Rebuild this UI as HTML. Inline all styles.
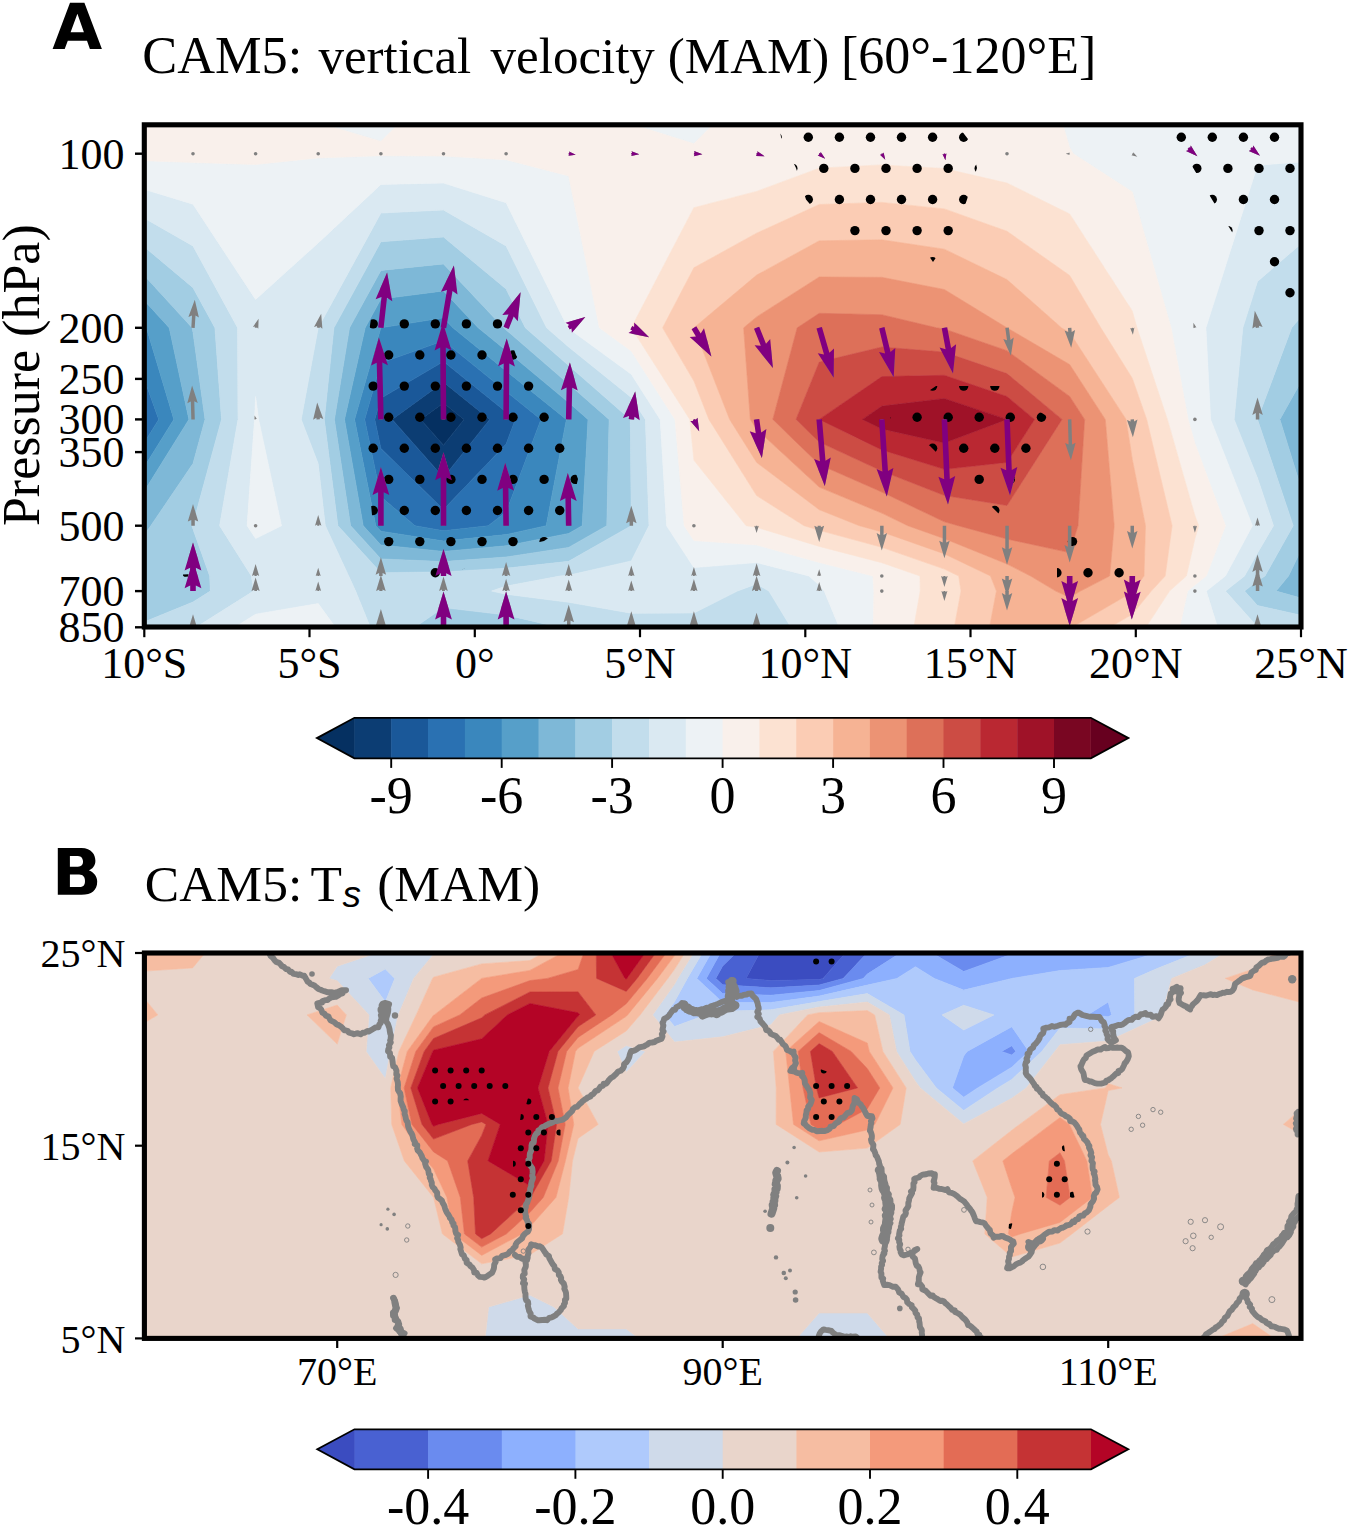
<!DOCTYPE html>
<html><head><meta charset="utf-8"><title>Figure</title>
<style>
html,body{margin:0;padding:0;background:#fff;}
svg{display:block;}
text{font-family:"Liberation Serif",serif;fill:#000;}
.sb{font-family:"Liberation Sans",sans-serif;font-weight:bold;}
</style></head><body>
<svg width="1350" height="1527" viewBox="0 0 1350 1527">
<rect x="0" y="0" width="1350" height="1527" fill="#ffffff"/>
<defs><clipPath id="clipA"><rect x="144.3" y="124.8" width="1156.7" height="502.2"/></clipPath></defs>
<g clip-path="url(#clipA)">
<path d="M443.5,402.9L464,419.4L443.5,445.2L420.7,419.4Z" fill="#053061" stroke="#053061" stroke-width="0.6" fill-rule="evenodd"/>
<path d="M443.5,382.2L489.7,419.4L443.5,477.4L392.2,419.4ZM420.7,419.4L443.5,445.2L464,419.4L443.5,402.9Z" fill="#0c3d73" stroke="#0c3d73" stroke-width="0.6" fill-rule="evenodd"/>
<path d="M143.5,419.4L130.4,440.6L130.4,419.4L130.4,382.7ZM380.9,398.3L443.5,361.5L506.1,412L515.3,419.4L506.1,443.9L443.5,509.6L380.9,448.4L374.8,419.4ZM392.2,419.4L443.5,477.4L489.7,419.4L443.5,382.2Z" fill="#1a5899" stroke="#1a5899" stroke-width="0.6" fill-rule="evenodd"/>
<path d="M158.7,419.4L130.4,464.9L130.4,440.6L143.5,419.4L130.4,382.7L130.4,340.5ZM380.9,363L443.5,340.8L506.1,391.5L540.9,419.4L506.1,512.1L488.2,525.7L443.5,530.8L415,525.7L380.9,496.7L364.7,419.4ZM374.8,419.4L380.9,448.4L443.5,509.6L506.1,443.9L515.3,419.4L506.1,412L443.5,361.5L380.9,398.3Z" fill="#2a71b2" stroke="#2a71b2" stroke-width="0.6" fill-rule="evenodd"/>
<path d="M146.4,327.8L173.8,419.4L130.4,489.2L130.4,464.9L158.7,419.4L130.4,340.5L130.4,327.8L130.4,310.3ZM380.9,327.8L443.5,317.8L452.9,327.8L506.1,370.9L566.4,419.4L546.2,525.7L506.1,534.6L443.5,541.1L380.9,531.2L375.8,525.7L354.6,419.4ZM364.7,419.4L380.9,496.7L415,525.7L443.5,530.8L488.2,525.7L506.1,512.1L540.9,419.4L506.1,391.5L443.5,340.8L380.9,363Z" fill="#3a87bd" stroke="#3a87bd" stroke-width="0.6" fill-rule="evenodd"/>
<path d="M169.2,327.8L188.9,419.4L130.4,513.5L130.4,489.2L173.8,419.4L146.4,327.8L130.4,310.3L130.4,285.3ZM380.9,299.1L443.5,290.9L478.2,327.8L506.1,350.4L568.7,402.6L588,419.4L582.2,525.7L568.7,533.4L506.1,545.8L443.5,551.4L380.9,545L363.2,525.7L344.5,419.4L365.2,327.8ZM380.9,327.8L354.6,419.4L375.8,525.7L380.9,531.2L443.5,541.1L506.1,534.6L546.2,525.7L566.4,419.4L506.1,370.9L452.9,327.8L443.5,317.8ZM1320.1,387.5L1320.1,419.4L1320.1,478.9L1302.2,419.4ZM1320.1,558L1320.1,576L1320.1,585L1311.9,576Z" fill="#569fc9" stroke="#569fc9" stroke-width="0.6" fill-rule="evenodd"/>
<path d="M192.1,327.8L193,332.6L205,419.4L193,463.5L150.8,525.7L130.4,553.6L130.4,525.7L130.4,513.5L188.9,419.4L169.2,327.8L130.4,285.3L130.4,260.3ZM380.9,270.4L443.5,263.9L503.6,327.8L506.1,329.9L568.7,384.1L609.1,419.4L606.8,525.7L568.7,547.4L506.1,557L443.5,561.6L380.9,558.9L350.6,525.7L334.4,419.4L349.5,327.8ZM365.2,327.8L344.5,419.4L363.2,525.7L380.9,545L443.5,551.4L506.1,545.8L568.7,533.4L582.2,525.7L588,419.4L568.7,402.6L506.1,350.4L478.2,327.8L443.5,290.9L380.9,299.1ZM1320.1,347.7L1320.1,387.5L1302.2,419.4L1320.1,478.9L1320.1,525.7L1320.1,558L1311.9,576L1320.1,585L1320.1,591.1L1320.1,603.3L1276.1,591.1L1288.5,576L1312.8,525.7L1279.9,419.4Z" fill="#7eb8d7" stroke="#7eb8d7" stroke-width="0.6" fill-rule="evenodd"/>
<path d="M193,287.7L214.9,327.8L221.5,419.4L193,523.9L191.8,525.7L193,529.2L209.7,576L210.3,591.1L193,602L130.4,627.5L130.4,660L130.4,660L130.4,627.5L130.4,591.1L130.4,576L130.4,553.6L150.8,525.7L193,463.5L205,419.4L193,332.6L192.1,327.8L130.4,260.3L130.4,235.2ZM380.9,241.8L443.5,237L506.1,289L525.3,327.8L568.7,365.6L630.3,419.4L631.3,525.7L631.3,525.7L631.3,525.7L568.7,561.3L506.1,568.2L443.5,571.9L380.9,572.7L337.9,525.7L324.3,419.4L333.9,327.8ZM349.5,327.8L334.4,419.4L350.6,525.7L380.9,558.9L443.5,561.6L506.1,557L568.7,547.4L606.8,525.7L609.1,419.4L568.7,384.1L506.1,329.9L503.6,327.8L443.5,263.9L380.9,270.4ZM1320.1,294.3L1320.1,327.8L1320.1,347.7L1279.9,419.4L1312.8,525.7L1288.5,576L1276.1,591.1L1320.1,603.3L1320.1,619.4L1257.5,605.6L1244.5,591.1L1257.5,580.8L1265,576L1293.2,525.7L1257.5,419.4L1257.5,419.4L1257.5,419.4L1291.7,327.8ZM443.5,607.6L506.1,615L559.8,627.5L559.8,660L506.1,660L443.5,660L414.6,660L414.6,627.5Z" fill="#a2cde3" stroke="#a2cde3" stroke-width="0.6" fill-rule="evenodd"/>
<path d="M193,246L237.6,327.8L238,419.4L219.6,525.7L251.4,576L253.5,591.1L195.7,627.5L195.7,660L193,660L130.4,660L130.4,627.5L193,602L210.3,591.1L209.7,576L193,529.2L191.8,525.7L193,523.9L221.5,419.4L214.9,327.8L193,287.7L130.4,235.2L130.4,210.2ZM318.2,327.8L380.9,213.1L443.5,210L506.1,245.9L546.6,327.8L568.7,347L631.3,397.4L645.4,419.4L649,525.7L631.3,560.9L568.7,575.3L559.8,576L506.1,586.1L491.6,591.1L506.1,594.2L568.7,602.3L631.3,613.2L693.9,613L737.4,591.1L756.6,583.9L768.9,591.1L791,627.5L791,660L756.6,660L693.9,660L631.3,660L568.7,660L559.8,660L559.8,627.5L506.1,615L443.5,607.6L414.6,627.5L414.6,660L380.9,660L370.4,660L370.4,627.5L355.6,591.1L348.7,576L325.3,525.7L318.2,463.7L301.2,419.4ZM333.9,327.8L324.3,419.4L337.9,525.7L380.9,572.7L443.5,571.9L506.1,568.2L568.7,561.3L631.3,525.7L631.3,525.7L631.3,525.7L630.3,419.4L568.7,365.6L525.3,327.8L506.1,289L443.5,237L380.9,241.8ZM1257.5,281.4L1320.1,227.4L1320.1,294.3L1291.7,327.8L1257.5,419.4L1257.5,419.4L1257.5,419.4L1293.2,525.7L1265,576L1257.5,580.8L1244.5,591.1L1257.5,605.6L1320.1,619.4L1320.1,627.5L1320.1,660L1261.1,660L1261.1,627.5L1257.5,626.9L1225.4,591.1L1244.5,576L1257.5,553L1273.5,525.7L1257.5,478.1L1234.1,419.4L1242.8,327.8Z" fill="#c2ddec" stroke="#c2ddec" stroke-width="0.6" fill-rule="evenodd"/>
<path d="M193,204.2L255.6,299.5L318.2,242.9L380.9,184.4L443.5,183.1L506.1,202.8L567.9,327.8L568.7,328.5L631.3,374.2L660.2,419.4L666.6,525.7L693.9,567.6L756.6,562.6L808.9,576L819.2,585.1L824.2,591.1L839.3,627.5L839.3,660L819.2,660L791,660L791,627.5L768.9,591.1L756.6,583.9L737.4,591.1L693.9,613L631.3,613.2L568.7,602.3L506.1,594.2L491.6,591.1L506.1,586.1L559.8,576L568.7,575.3L631.3,560.9L649,525.7L645.4,419.4L631.3,397.4L568.7,347L546.6,327.8L506.1,245.9L443.5,210L380.9,213.1L318.2,327.8L318.2,327.8L301.2,419.4L318.2,463.7L325.3,525.7L348.7,576L355.6,591.1L370.4,627.5L370.4,660L335.6,660L335.6,627.5L318.2,603.6L255.6,614.2L234.4,627.5L234.4,660L195.7,660L195.7,627.5L253.5,591.1L251.4,576L219.6,525.7L238,419.4L237.6,327.8L193,246L130.4,210.2L130.4,185.2ZM254.5,419.4L247.1,525.7L255.6,538.6L281.5,525.7L258.6,419.4L255.6,396.5ZM1257.5,165.3L1320.1,160.4L1320.1,227.4L1257.5,281.4L1242.8,327.8L1234.1,419.4L1257.5,478.1L1273.5,525.7L1257.5,553L1244.5,576L1225.4,591.1L1257.5,626.9L1261.1,627.5L1261.1,660L1257.5,660L1217.6,660L1217.6,627.5L1206.3,591.1L1225.4,576L1252.4,525.7L1210.6,419.4L1205.9,327.8Z" fill="#dae9f2" stroke="#dae9f2" stroke-width="0.6" fill-rule="evenodd"/>
<path d="M318.2,57L380.9,57L443.5,57L446.8,57L443.5,79.9L380.9,141.4L318.2,122.7L301.9,57ZM631.3,57L693.9,57L756.6,57L759.8,57L756.6,81L693.9,143.7L631.3,124.1L595.2,57ZM1069.7,57L1132.3,57L1194.9,57L1257.5,57L1320.1,57L1320.1,153.7L1320.1,160.4L1257.5,165.3L1205.9,327.8L1210.6,419.4L1252.4,525.7L1225.4,576L1206.3,591.1L1217.6,627.5L1217.6,660L1194.9,660L1179.7,660L1179.7,627.5L1187.6,591.1L1194.9,585.1L1206.3,576L1225.5,525.7L1194.9,443.3L1188.1,419.4L1171.1,327.8L1132.3,191.9L1073.3,153.7L1069.7,147.7L1042.8,57ZM193,162.5L255.6,164.5L318.2,157.9L380.9,155.7L443.5,156.1L506.1,159.7L568.7,175.9L599.4,327.8L631.3,351L675,419.4L684.2,525.7L693.9,540.6L756.6,544.9L819.2,562.4L872.9,576L873.9,591.1L873.3,627.5L873.3,660L839.3,660L839.3,627.5L824.2,591.1L819.2,585.1L808.9,576L756.6,562.6L693.9,567.6L666.6,525.7L660.2,419.4L631.3,374.2L568.7,328.5L567.9,327.8L506.1,202.8L443.5,183.1L380.9,184.4L318.2,242.9L255.6,299.5L193,204.2L130.4,185.2L130.4,160.2ZM255.6,396.5L258.6,419.4L281.5,525.7L255.6,538.6L247.1,525.7L254.5,419.4ZM255.6,614.2L318.2,603.6L335.6,627.5L335.6,660L318.2,660L255.6,660L234.4,660L234.4,627.5Z" fill="#edf2f5" stroke="#edf2f5" stroke-width="0.6" fill-rule="evenodd"/>
<path d="M193,57L255.6,57L301.9,57L318.2,122.7L380.9,141.4L443.5,79.9L446.8,57L506.1,57L568.7,57L595.2,57L631.3,124.1L693.9,143.7L756.6,81L759.8,57L819.2,57L881.8,57L944.4,57L1007,57L1042.8,57L1069.7,147.7L1073.3,153.7L1132.3,191.9L1171.1,327.8L1188.1,419.4L1194.9,443.3L1225.5,525.7L1206.3,576L1194.9,585.1L1187.6,591.1L1179.7,627.5L1179.7,660L1145.8,660L1145.8,627.5L1169.5,591.1L1186.4,576L1194.9,538.7L1198.7,525.7L1194.9,515.6L1167.4,419.4L1137,327.8L1132.3,311.1L1069.7,214L1007,183.1L944.4,168.6L881.8,164.9L819.2,168.2L756.6,191.4L693.9,207.7L631.3,327.8L689.8,419.4L693.9,460.2L746.1,525.7L756.6,527.3L819.2,546.4L881.8,562.7L920,576L920.2,591.1L913.8,627.5L913.8,660L881.8,660L873.3,660L873.3,627.5L873.9,591.1L872.9,576L819.2,562.4L756.6,544.9L693.9,540.6L684.2,525.7L675,419.4L631.3,351L599.4,327.8L568.7,175.9L506.1,159.7L443.5,156.1L380.9,155.7L318.2,157.9L255.6,164.5L193,162.5L130.4,160.2L130.4,153.7L130.4,57Z" fill="#f9f0eb" stroke="#f9f0eb" stroke-width="0.6" fill-rule="evenodd"/>
<path d="M693.9,207.7L756.6,191.4L819.2,168.2L881.8,164.9L944.4,168.6L1007,183.1L1069.7,214L1132.3,311.1L1137,327.8L1167.4,419.4L1194.9,515.6L1198.7,525.7L1194.9,538.7L1186.4,576L1169.5,591.1L1145.8,627.5L1145.8,660L1132.3,660L1109.5,660L1109.5,627.5L1132.3,614.3L1151.3,591.1L1165.2,576L1172.1,525.7L1146.7,419.4L1132.3,378.3L1100.8,327.8L1069.7,275.5L1007,231.3L944.4,208.9L881.8,202.4L819.2,204.5L756.6,233.2L693.9,267.8L662.6,327.8L693.9,381.1L708.9,419.4L756.6,495.6L804.1,525.7L819.2,530.3L881.8,547.3L944.4,569.1L958.7,576L961,591.1L954.3,627.5L954.3,660L944.4,660L913.8,660L913.8,627.5L920.2,591.1L920,576L881.8,562.7L819.2,546.4L756.6,527.3L746.1,525.7L693.9,460.2L689.8,419.4L631.3,327.8Z" fill="#fce2d2" stroke="#fce2d2" stroke-width="0.6" fill-rule="evenodd"/>
<path d="M693.9,267.8L756.6,233.2L819.2,204.5L881.8,202.4L944.4,208.9L1007,231.3L1069.7,275.5L1100.8,327.8L1132.3,378.3L1146.7,419.4L1172.1,525.7L1165.2,576L1151.3,591.1L1132.3,614.3L1109.5,627.5L1109.5,660L1071.6,660L1071.6,627.5L1132.3,592.2L1133.2,591.1L1144,576L1145.5,525.7L1132.3,459.3L1126.1,419.4L1069.7,332.6L1061.5,327.8L1007,279.6L944.4,249.2L881.8,239.8L819.2,240.8L756.6,275.1L693.9,327.8L729.6,419.4L756.6,462.4L819.2,509.7L859.2,525.7L881.8,531.9L944.4,553.9L990.5,576L996.4,591.1L989.5,627.5L989.5,660L954.3,660L954.3,627.5L961,591.1L958.7,576L944.4,569.1L881.8,547.3L819.2,530.3L804.1,525.7L756.6,495.6L708.9,419.4L693.9,381.1L662.6,327.8Z" fill="#fbccb4" stroke="#fbccb4" stroke-width="0.6" fill-rule="evenodd"/>
<path d="M756.6,275.1L819.2,240.8L881.8,239.8L944.4,249.2L1007,279.6L1061.5,327.8L1069.7,332.6L1126.1,419.4L1132.3,459.3L1145.5,525.7L1144,576L1133.2,591.1L1132.3,592.2L1071.6,627.5L1071.6,660L1069.7,660L1007,660L989.5,660L989.5,627.5L996.4,591.1L990.5,576L944.4,553.9L881.8,531.9L859.2,525.7L819.2,509.7L756.6,462.4L729.6,419.4L693.9,327.8ZM743.6,327.8L750.3,419.4L756.6,429.3L819.2,487.1L881.8,513.1L907.7,525.7L944.4,538.7L1007,564L1030.5,576L1055.7,591.1L1069.7,597.4L1080.5,591.1L1109.7,576L1114.2,525.7L1105.3,419.4L1069.7,364.5L1007,327.8L1007,327.8L944.4,289.5L881.8,277.3L819.2,277L756.6,316.9Z" fill="#f6b394" stroke="#f6b394" stroke-width="0.6" fill-rule="evenodd"/>
<path d="M756.6,316.9L819.2,277L881.8,277.3L944.4,289.5L1007,327.8L1007,327.8L1069.7,364.5L1105.3,419.4L1114.2,525.7L1109.7,576L1080.5,591.1L1069.7,597.4L1055.7,591.1L1030.5,576L1007,564L944.4,538.7L907.7,525.7L881.8,513.1L819.2,487.1L756.6,429.3L750.3,419.4L743.6,327.8ZM797.2,327.8L772.8,419.4L819.2,464.5L881.8,492L944.4,521.8L958.2,525.7L1007,539L1069.7,552.6L1078,525.7L1084.6,419.4L1069.7,396.4L1007,350.7L944.4,329L936.6,327.8L881.8,314.7L819.2,313.3Z" fill="#ec9374" stroke="#ec9374" stroke-width="0.6" fill-rule="evenodd"/>
<path d="M819.2,313.3L881.8,314.7L936.6,327.8L944.4,329L1007,350.7L1069.7,396.4L1084.6,419.4L1078,525.7L1069.7,552.6L1007,539L958.2,525.7L944.4,521.8L881.8,492L819.2,464.5L772.8,419.4L797.2,327.8ZM796,419.4L819.2,442L881.8,471L944.4,495.5L1007,505.5L1062,419.4L1007,373.6L944.4,352.1L881.8,347L819.2,362.1Z" fill="#dd7059" stroke="#dd7059" stroke-width="0.6" fill-rule="evenodd"/>
<path d="M819.2,362.1L881.8,347L944.4,352.1L1007,373.6L1062,419.4L1007,505.5L944.4,495.5L881.8,471L819.2,442L796,419.4ZM819.2,419.4L881.8,449.9L944.4,469.3L1007,462.4L1034.5,419.4L1007,396.5L944.4,375.3L881.8,376.6Z" fill="#cc4c44" stroke="#cc4c44" stroke-width="0.6" fill-rule="evenodd"/>
<path d="M881.8,376.6L944.4,375.3L1007,396.5L1034.5,419.4L1007,462.4L944.4,469.3L881.8,449.9L819.2,419.4ZM862.4,419.4L881.8,428.9L944.4,443L1007,419.4L944.4,398.5L881.8,406.1Z" fill="#ba2832" stroke="#ba2832" stroke-width="0.6" fill-rule="evenodd"/>
<path d="M881.8,406.1L944.4,398.5L1007,419.4L944.4,443L881.8,428.9L862.4,419.4Z" fill="#9f1228" stroke="#9f1228" stroke-width="0.6" fill-rule="evenodd"/>
</g>
<g clip-path="url(#clipA)">
<clipPath id="sa0"><path d="M779,126L958,126L971,143L977,168L967,199.5L956,232L948,240L933,262L918,240L838,237L806,199.5L796,168L781,137Z"/></clipPath>
<g clip-path="url(#sa0)" fill="#000"><circle cx="761.7" cy="106.2" r="4.7"/><circle cx="792.8" cy="106.2" r="4.7"/><circle cx="823.8" cy="106.2" r="4.7"/><circle cx="854.9" cy="106.2" r="4.7"/><circle cx="886" cy="106.2" r="4.7"/><circle cx="917.1" cy="106.2" r="4.7"/><circle cx="948.2" cy="106.2" r="4.7"/><circle cx="979.2" cy="106.2" r="4.7"/><circle cx="1010.3" cy="106.2" r="4.7"/><circle cx="746.1" cy="137.3" r="4.7"/><circle cx="777.2" cy="137.3" r="4.7"/><circle cx="808.3" cy="137.3" r="4.7"/><circle cx="839.4" cy="137.3" r="4.7"/><circle cx="870.5" cy="137.3" r="4.7"/><circle cx="901.5" cy="137.3" r="4.7"/><circle cx="932.6" cy="137.3" r="4.7"/><circle cx="963.7" cy="137.3" r="4.7"/><circle cx="994.8" cy="137.3" r="4.7"/><circle cx="761.7" cy="168.4" r="4.7"/><circle cx="792.8" cy="168.4" r="4.7"/><circle cx="823.8" cy="168.4" r="4.7"/><circle cx="854.9" cy="168.4" r="4.7"/><circle cx="886" cy="168.4" r="4.7"/><circle cx="917.1" cy="168.4" r="4.7"/><circle cx="948.2" cy="168.4" r="4.7"/><circle cx="979.2" cy="168.4" r="4.7"/><circle cx="1010.3" cy="168.4" r="4.7"/><circle cx="746.1" cy="199.5" r="4.7"/><circle cx="777.2" cy="199.5" r="4.7"/><circle cx="808.3" cy="199.5" r="4.7"/><circle cx="839.4" cy="199.5" r="4.7"/><circle cx="870.5" cy="199.5" r="4.7"/><circle cx="901.5" cy="199.5" r="4.7"/><circle cx="932.6" cy="199.5" r="4.7"/><circle cx="963.7" cy="199.5" r="4.7"/><circle cx="994.8" cy="199.5" r="4.7"/><circle cx="761.7" cy="230.6" r="4.7"/><circle cx="792.8" cy="230.6" r="4.7"/><circle cx="823.8" cy="230.6" r="4.7"/><circle cx="854.9" cy="230.6" r="4.7"/><circle cx="886" cy="230.6" r="4.7"/><circle cx="917.1" cy="230.6" r="4.7"/><circle cx="948.2" cy="230.6" r="4.7"/><circle cx="979.2" cy="230.6" r="4.7"/><circle cx="1010.3" cy="230.6" r="4.7"/><circle cx="746.1" cy="261.7" r="4.7"/><circle cx="777.2" cy="261.7" r="4.7"/><circle cx="808.3" cy="261.7" r="4.7"/><circle cx="839.4" cy="261.7" r="4.7"/><circle cx="870.5" cy="261.7" r="4.7"/><circle cx="901.5" cy="261.7" r="4.7"/><circle cx="932.6" cy="261.7" r="4.7"/><circle cx="963.7" cy="261.7" r="4.7"/><circle cx="994.8" cy="261.7" r="4.7"/><circle cx="761.7" cy="292.8" r="4.7"/><circle cx="792.8" cy="292.8" r="4.7"/><circle cx="823.8" cy="292.8" r="4.7"/><circle cx="854.9" cy="292.8" r="4.7"/><circle cx="886" cy="292.8" r="4.7"/><circle cx="917.1" cy="292.8" r="4.7"/><circle cx="948.2" cy="292.8" r="4.7"/><circle cx="979.2" cy="292.8" r="4.7"/><circle cx="1010.3" cy="292.8" r="4.7"/></g>
<clipPath id="sa1"><path d="M1166,126L1302,126L1302,315L1284,298L1268,262L1232,232L1212,199.5L1192,166L1172,137Z"/></clipPath>
<g clip-path="url(#sa1)" fill="#000"><circle cx="1134.6" cy="106.2" r="4.7"/><circle cx="1165.7" cy="106.2" r="4.7"/><circle cx="1196.8" cy="106.2" r="4.7"/><circle cx="1227.9" cy="106.2" r="4.7"/><circle cx="1259" cy="106.2" r="4.7"/><circle cx="1290" cy="106.2" r="4.7"/><circle cx="1321.1" cy="106.2" r="4.7"/><circle cx="1150.2" cy="137.3" r="4.7"/><circle cx="1181.3" cy="137.3" r="4.7"/><circle cx="1212.3" cy="137.3" r="4.7"/><circle cx="1243.4" cy="137.3" r="4.7"/><circle cx="1274.5" cy="137.3" r="4.7"/><circle cx="1305.6" cy="137.3" r="4.7"/><circle cx="1336.7" cy="137.3" r="4.7"/><circle cx="1134.6" cy="168.4" r="4.7"/><circle cx="1165.7" cy="168.4" r="4.7"/><circle cx="1196.8" cy="168.4" r="4.7"/><circle cx="1227.9" cy="168.4" r="4.7"/><circle cx="1259" cy="168.4" r="4.7"/><circle cx="1290" cy="168.4" r="4.7"/><circle cx="1321.1" cy="168.4" r="4.7"/><circle cx="1150.2" cy="199.5" r="4.7"/><circle cx="1181.3" cy="199.5" r="4.7"/><circle cx="1212.3" cy="199.5" r="4.7"/><circle cx="1243.4" cy="199.5" r="4.7"/><circle cx="1274.5" cy="199.5" r="4.7"/><circle cx="1305.6" cy="199.5" r="4.7"/><circle cx="1336.7" cy="199.5" r="4.7"/><circle cx="1134.6" cy="230.6" r="4.7"/><circle cx="1165.7" cy="230.6" r="4.7"/><circle cx="1196.8" cy="230.6" r="4.7"/><circle cx="1227.9" cy="230.6" r="4.7"/><circle cx="1259" cy="230.6" r="4.7"/><circle cx="1290" cy="230.6" r="4.7"/><circle cx="1321.1" cy="230.6" r="4.7"/><circle cx="1150.2" cy="261.7" r="4.7"/><circle cx="1181.3" cy="261.7" r="4.7"/><circle cx="1212.3" cy="261.7" r="4.7"/><circle cx="1243.4" cy="261.7" r="4.7"/><circle cx="1274.5" cy="261.7" r="4.7"/><circle cx="1305.6" cy="261.7" r="4.7"/><circle cx="1336.7" cy="261.7" r="4.7"/><circle cx="1134.6" cy="292.8" r="4.7"/><circle cx="1165.7" cy="292.8" r="4.7"/><circle cx="1196.8" cy="292.8" r="4.7"/><circle cx="1227.9" cy="292.8" r="4.7"/><circle cx="1259" cy="292.8" r="4.7"/><circle cx="1290" cy="292.8" r="4.7"/><circle cx="1321.1" cy="292.8" r="4.7"/><circle cx="1150.2" cy="323.9" r="4.7"/><circle cx="1181.3" cy="323.9" r="4.7"/><circle cx="1212.3" cy="323.9" r="4.7"/><circle cx="1243.4" cy="323.9" r="4.7"/><circle cx="1274.5" cy="323.9" r="4.7"/><circle cx="1305.6" cy="323.9" r="4.7"/><circle cx="1336.7" cy="323.9" r="4.7"/></g>
<clipPath id="sa2"><path d="M371,318L503,318L516,355L535,386L551,417L566,448L578,479L570,512L556,533L544,541L518,547L475,560L462,570L440,579L429,578L426,560L405,549L384,549L372,515L366,450L366,386L368,340Z"/></clipPath>
<g clip-path="url(#sa2)" fill="#000"><circle cx="357.6" cy="292.8" r="4.7"/><circle cx="388.7" cy="292.8" r="4.7"/><circle cx="419.8" cy="292.8" r="4.7"/><circle cx="450.9" cy="292.8" r="4.7"/><circle cx="482" cy="292.8" r="4.7"/><circle cx="513" cy="292.8" r="4.7"/><circle cx="544.1" cy="292.8" r="4.7"/><circle cx="575.2" cy="292.8" r="4.7"/><circle cx="606.3" cy="292.8" r="4.7"/><circle cx="342.1" cy="323.9" r="4.7"/><circle cx="373.2" cy="323.9" r="4.7"/><circle cx="404.3" cy="323.9" r="4.7"/><circle cx="435.3" cy="323.9" r="4.7"/><circle cx="466.4" cy="323.9" r="4.7"/><circle cx="497.5" cy="323.9" r="4.7"/><circle cx="528.6" cy="323.9" r="4.7"/><circle cx="559.7" cy="323.9" r="4.7"/><circle cx="590.7" cy="323.9" r="4.7"/><circle cx="357.6" cy="355" r="4.7"/><circle cx="388.7" cy="355" r="4.7"/><circle cx="419.8" cy="355" r="4.7"/><circle cx="450.9" cy="355" r="4.7"/><circle cx="482" cy="355" r="4.7"/><circle cx="513" cy="355" r="4.7"/><circle cx="544.1" cy="355" r="4.7"/><circle cx="575.2" cy="355" r="4.7"/><circle cx="606.3" cy="355" r="4.7"/><circle cx="342.1" cy="386.1" r="4.7"/><circle cx="373.2" cy="386.1" r="4.7"/><circle cx="404.3" cy="386.1" r="4.7"/><circle cx="435.3" cy="386.1" r="4.7"/><circle cx="466.4" cy="386.1" r="4.7"/><circle cx="497.5" cy="386.1" r="4.7"/><circle cx="528.6" cy="386.1" r="4.7"/><circle cx="559.7" cy="386.1" r="4.7"/><circle cx="590.7" cy="386.1" r="4.7"/><circle cx="357.6" cy="417.2" r="4.7"/><circle cx="388.7" cy="417.2" r="4.7"/><circle cx="419.8" cy="417.2" r="4.7"/><circle cx="450.9" cy="417.2" r="4.7"/><circle cx="482" cy="417.2" r="4.7"/><circle cx="513" cy="417.2" r="4.7"/><circle cx="544.1" cy="417.2" r="4.7"/><circle cx="575.2" cy="417.2" r="4.7"/><circle cx="606.3" cy="417.2" r="4.7"/><circle cx="342.1" cy="448.3" r="4.7"/><circle cx="373.2" cy="448.3" r="4.7"/><circle cx="404.3" cy="448.3" r="4.7"/><circle cx="435.3" cy="448.3" r="4.7"/><circle cx="466.4" cy="448.3" r="4.7"/><circle cx="497.5" cy="448.3" r="4.7"/><circle cx="528.6" cy="448.3" r="4.7"/><circle cx="559.7" cy="448.3" r="4.7"/><circle cx="590.7" cy="448.3" r="4.7"/><circle cx="357.6" cy="479.4" r="4.7"/><circle cx="388.7" cy="479.4" r="4.7"/><circle cx="419.8" cy="479.4" r="4.7"/><circle cx="450.9" cy="479.4" r="4.7"/><circle cx="482" cy="479.4" r="4.7"/><circle cx="513" cy="479.4" r="4.7"/><circle cx="544.1" cy="479.4" r="4.7"/><circle cx="575.2" cy="479.4" r="4.7"/><circle cx="606.3" cy="479.4" r="4.7"/><circle cx="342.1" cy="510.5" r="4.7"/><circle cx="373.2" cy="510.5" r="4.7"/><circle cx="404.3" cy="510.5" r="4.7"/><circle cx="435.3" cy="510.5" r="4.7"/><circle cx="466.4" cy="510.5" r="4.7"/><circle cx="497.5" cy="510.5" r="4.7"/><circle cx="528.6" cy="510.5" r="4.7"/><circle cx="559.7" cy="510.5" r="4.7"/><circle cx="590.7" cy="510.5" r="4.7"/><circle cx="357.6" cy="541.6" r="4.7"/><circle cx="388.7" cy="541.6" r="4.7"/><circle cx="419.8" cy="541.6" r="4.7"/><circle cx="450.9" cy="541.6" r="4.7"/><circle cx="482" cy="541.6" r="4.7"/><circle cx="513" cy="541.6" r="4.7"/><circle cx="544.1" cy="541.6" r="4.7"/><circle cx="575.2" cy="541.6" r="4.7"/><circle cx="606.3" cy="541.6" r="4.7"/><circle cx="342.1" cy="572.7" r="4.7"/><circle cx="373.2" cy="572.7" r="4.7"/><circle cx="404.3" cy="572.7" r="4.7"/><circle cx="435.3" cy="572.7" r="4.7"/><circle cx="466.4" cy="572.7" r="4.7"/><circle cx="497.5" cy="572.7" r="4.7"/><circle cx="528.6" cy="572.7" r="4.7"/><circle cx="559.7" cy="572.7" r="4.7"/><circle cx="590.7" cy="572.7" r="4.7"/><circle cx="357.6" cy="603.8" r="4.7"/><circle cx="388.7" cy="603.8" r="4.7"/><circle cx="419.8" cy="603.8" r="4.7"/><circle cx="450.9" cy="603.8" r="4.7"/><circle cx="482" cy="603.8" r="4.7"/><circle cx="513" cy="603.8" r="4.7"/><circle cx="544.1" cy="603.8" r="4.7"/><circle cx="575.2" cy="603.8" r="4.7"/><circle cx="606.3" cy="603.8" r="4.7"/></g>
<clipPath id="sa3"><path d="M936,386L1001,386L1048,417L1032,452L1017,486L999,514L990,505L973,480L955,462L936,452L930,446L890,418L895,414Z"/></clipPath>
<g clip-path="url(#sa3)" fill="#000"><circle cx="854.9" cy="355" r="4.7"/><circle cx="886" cy="355" r="4.7"/><circle cx="917.1" cy="355" r="4.7"/><circle cx="948.2" cy="355" r="4.7"/><circle cx="979.2" cy="355" r="4.7"/><circle cx="1010.3" cy="355" r="4.7"/><circle cx="1041.4" cy="355" r="4.7"/><circle cx="1072.5" cy="355" r="4.7"/><circle cx="870.5" cy="386.1" r="4.7"/><circle cx="901.5" cy="386.1" r="4.7"/><circle cx="932.6" cy="386.1" r="4.7"/><circle cx="963.7" cy="386.1" r="4.7"/><circle cx="994.8" cy="386.1" r="4.7"/><circle cx="1025.9" cy="386.1" r="4.7"/><circle cx="1056.9" cy="386.1" r="4.7"/><circle cx="854.9" cy="417.2" r="4.7"/><circle cx="886" cy="417.2" r="4.7"/><circle cx="917.1" cy="417.2" r="4.7"/><circle cx="948.2" cy="417.2" r="4.7"/><circle cx="979.2" cy="417.2" r="4.7"/><circle cx="1010.3" cy="417.2" r="4.7"/><circle cx="1041.4" cy="417.2" r="4.7"/><circle cx="1072.5" cy="417.2" r="4.7"/><circle cx="870.5" cy="448.3" r="4.7"/><circle cx="901.5" cy="448.3" r="4.7"/><circle cx="932.6" cy="448.3" r="4.7"/><circle cx="963.7" cy="448.3" r="4.7"/><circle cx="994.8" cy="448.3" r="4.7"/><circle cx="1025.9" cy="448.3" r="4.7"/><circle cx="1056.9" cy="448.3" r="4.7"/><circle cx="854.9" cy="479.4" r="4.7"/><circle cx="886" cy="479.4" r="4.7"/><circle cx="917.1" cy="479.4" r="4.7"/><circle cx="948.2" cy="479.4" r="4.7"/><circle cx="979.2" cy="479.4" r="4.7"/><circle cx="1010.3" cy="479.4" r="4.7"/><circle cx="1041.4" cy="479.4" r="4.7"/><circle cx="1072.5" cy="479.4" r="4.7"/><circle cx="870.5" cy="510.5" r="4.7"/><circle cx="901.5" cy="510.5" r="4.7"/><circle cx="932.6" cy="510.5" r="4.7"/><circle cx="963.7" cy="510.5" r="4.7"/><circle cx="994.8" cy="510.5" r="4.7"/><circle cx="1025.9" cy="510.5" r="4.7"/><circle cx="1056.9" cy="510.5" r="4.7"/><circle cx="854.9" cy="541.6" r="4.7"/><circle cx="886" cy="541.6" r="4.7"/><circle cx="917.1" cy="541.6" r="4.7"/><circle cx="948.2" cy="541.6" r="4.7"/><circle cx="979.2" cy="541.6" r="4.7"/><circle cx="1010.3" cy="541.6" r="4.7"/><circle cx="1041.4" cy="541.6" r="4.7"/><circle cx="1072.5" cy="541.6" r="4.7"/></g>
<clipPath id="sa4"><path d="M1066,534L1079,534L1088,562L1124,565L1126,580L1057,580L1057,565L1066,548Z"/></clipPath>
<g clip-path="url(#sa4)" fill="#000"><circle cx="1025.9" cy="510.5" r="4.7"/><circle cx="1056.9" cy="510.5" r="4.7"/><circle cx="1088" cy="510.5" r="4.7"/><circle cx="1119.1" cy="510.5" r="4.7"/><circle cx="1150.2" cy="510.5" r="4.7"/><circle cx="1041.4" cy="541.6" r="4.7"/><circle cx="1072.5" cy="541.6" r="4.7"/><circle cx="1103.6" cy="541.6" r="4.7"/><circle cx="1134.6" cy="541.6" r="4.7"/><circle cx="1025.9" cy="572.7" r="4.7"/><circle cx="1056.9" cy="572.7" r="4.7"/><circle cx="1088" cy="572.7" r="4.7"/><circle cx="1119.1" cy="572.7" r="4.7"/><circle cx="1150.2" cy="572.7" r="4.7"/><circle cx="1041.4" cy="603.8" r="4.7"/><circle cx="1072.5" cy="603.8" r="4.7"/><circle cx="1103.6" cy="603.8" r="4.7"/><circle cx="1134.6" cy="603.8" r="4.7"/></g>
<clipPath id="sa5"><path d="M183,574.6L188.5,574.2L188.5,576.4L183,577Z"/></clipPath>
<g clip-path="url(#sa5)" fill="#000"><circle cx="171.2" cy="541.6" r="4.7"/><circle cx="202.2" cy="541.6" r="4.7"/><circle cx="155.6" cy="572.7" r="4.7"/><circle cx="186.7" cy="572.7" r="4.7"/><circle cx="217.8" cy="572.7" r="4.7"/><circle cx="171.2" cy="603.8" r="4.7"/><circle cx="202.2" cy="603.8" r="4.7"/></g>
</g>
<g clip-path="url(#clipA)">
<g fill="#808080"><circle cx="193" cy="153.7" r="1.8"/><circle cx="255.6" cy="153.7" r="1.8"/><circle cx="318.2" cy="153.7" r="1.8"/><circle cx="380.9" cy="153.7" r="1.8"/><circle cx="443.5" cy="153.7" r="1.8"/><circle cx="506.1" cy="153.7" r="1.8"/><path d="M568.6,154.4L569.3,154.5L568.4,155.8L575.7,154.7L569,151.6L569.5,153.1L568.8,153Z"/><path d="M631.3,154.5L632.1,154.6L631.2,156.1L639.3,154.2L631.5,151.3L632.2,152.9L631.4,152.9Z"/><path d="M693.9,154.5L694.7,154.6L693.8,156.2L702.4,154.2L694.1,151.1L694.8,152.9L694,152.8Z"/><path d="M756.3,154.5L757.1,154.8L755.8,156.1L764.6,156.2L757.3,151.3L757.6,153.1L756.8,152.9Z"/><path d="M818.7,154.3L819.3,154.8L817.7,155.5L825.2,158.7L820.7,151.9L820.3,153.6L819.7,153.1Z"/><path d="M881.2,154L881.6,154.6L880,154.8L885.3,159.7L883.6,152.6L882.8,153.9L882.4,153.3Z"/><path d="M943.8,153.8L943.9,154.4L942.5,154L945.4,160.2L946.4,153.4L945.2,154.2L945.1,153.6Z"/><circle cx="1007" cy="153.7" r="1.8"/><path d="M1069.7,153.3L1069.3,153.3L1069.7,152.5L1065.7,153.7L1069.7,154.9L1069.3,154.1L1069.7,154.1Z"/><path d="M1132,154.2L1132.5,154.5L1131.4,155.2L1137.3,156.7L1133.2,152.2L1133.1,153.5L1132.6,153.2Z"/><path d="M1187.6,149.1L1188.5,149.9L1186,150.9L1197.4,156.2L1190.8,145.5L1190.1,148.1L1189.2,147.3Z"/><path d="M1250.3,149.1L1251.2,149.8L1248.8,150.9L1260,155.7L1253.3,145.5L1252.7,148L1251.8,147.3Z"/><path d="M194.7,327.9L195.5,315.6L198.9,317.6L194.8,299.8L188.4,316.9L192,315.4L191.3,327.7Z"/><path d="M256.5,328.1L256.8,327.2L258.3,328.7L258.6,318.8L252.9,326.9L255,326.6L254.7,327.5Z"/><path d="M319.6,328.1L319.9,326.7L322.4,328.7L321.2,313.8L314,326.9L317.1,326.1L316.8,327.5Z"/><path d="M382.6,328L387,288.2L390.3,290.4L387.1,272.4L379.9,289.2L383.6,287.9L379.1,327.6Z"/><path d="M445.2,328.1L453,281.4L456.2,283.7L453.9,265.6L445.8,282L449.6,280.8L441.7,327.5Z"/><path d="M507.7,328.5L516.3,307.4L518.9,310.4L520.6,292.2L509.1,306.4L513,306.1L504.5,327.1Z"/><path d="M569.7,329.3L573,327.1L573.4,331L585.3,317.1L567.8,322.2L571.1,324.2L567.8,326.3Z"/><path d="M630.5,329.3L634.4,331.4L631.2,333.7L649.1,337.3L636.2,324.4L636.1,328.3L632.2,326.3Z"/><path d="M692.5,328.7L701.8,344L697.9,344.3L711.4,356.5L706.8,338.8L704.7,342.1L695.4,326.9Z"/><path d="M754.9,328.5L765.3,354.2L761.4,353.8L772.9,368.1L771.2,349.9L768.6,352.8L758.2,327.1Z"/><path d="M817.5,328.3L827.6,363.2L823.8,362.5L833.7,377.8L833.9,359.5L831,362.2L820.9,327.3Z"/><path d="M880.1,328.2L888.3,362.4L884.5,361.5L893.7,377.3L894.7,359.1L891.7,361.6L883.5,327.4Z"/><path d="M942.7,328.1L948.4,358.2L944.6,357.2L953,373.4L954.9,355.2L951.8,357.6L946.1,327.5Z"/><path d="M1005.3,328L1007,340.3L1003.3,339.1L1010.9,355.7L1013.7,337.6L1010.5,339.9L1008.8,327.6Z"/><path d="M1067.9,327.9L1068.2,332.1L1064.6,330.6L1071.2,347.7L1075.1,329.9L1071.7,331.9L1071.4,327.7Z"/><path d="M1131.6,327.9L1131.6,328.6L1130.2,328L1132.9,334.8L1134.4,327.6L1133,328.4L1133,327.7Z"/><path d="M1195.4,327.7L1195.2,327.2L1196.4,327.4L1193.4,322.8L1193.4,328.2L1194.2,327.4L1194.4,327.9Z"/><path d="M1259.2,327.5L1258.9,325.8L1262.6,327L1254.8,310.8L1252.4,328.6L1255.5,326.4L1255.8,328.1Z"/><path d="M194.8,419.4L194.3,401.3L197.8,403L192.1,385.6L187.3,403.2L190.8,401.4L191.3,419.4Z"/><path d="M256,419.3L255.9,418.9L256.8,419.1L254.6,415.4L254.4,419.7L255.1,419.1L255.2,419.5Z"/><path d="M319.9,419.3L319.8,417.6L323.3,419.1L317.2,402.4L313.1,419.7L316.4,417.8L316.5,419.5Z"/><path d="M382.6,419.4L381,353.1L384.5,354.8L378.9,337.4L374,355L377.5,353.2L379.1,419.4Z"/><path d="M445.2,419.4L444.7,338.1L448.2,339.9L442.9,322.4L437.7,339.9L441.2,338.2L441.7,419.4Z"/><path d="M507.8,419.4L508.3,354.2L511.8,355.9L506.7,338.4L501.3,355.9L504.8,354.1L504.3,419.4Z"/><path d="M570.5,419.4L571.3,378.2L574.8,380L569.9,362.4L564.3,379.8L567.8,378.1L567,419.4Z"/><path d="M633.1,419.6L634.8,407.2L638,409.5L635.2,391.4L627.6,408L631.3,406.8L629.6,419.2Z"/><path d="M692.8,419.9L693.3,421.1L690.4,421L699.2,431.3L697.5,417.8L695.7,420.1L695.1,418.9Z"/><path d="M754.8,419.6L758,442.5L754.3,441.3L761.9,457.9L764.7,439.8L761.5,442.1L758.3,419.2Z"/><path d="M817.4,419.5L821.7,470.6L818.1,469.1L824.8,486.1L828.6,468.2L825.2,470.3L820.9,419.3Z"/><path d="M880.1,419.5L884,480.8L880.4,479.3L886.8,496.4L890.9,478.6L887.5,480.6L883.5,419.3Z"/><path d="M942.7,419.5L945.6,488.7L942,487.1L948,504.4L952.5,486.7L949.1,488.6L946.2,419.3Z"/><path d="M1005.3,419.5L1007.7,479.7L1004.1,478.1L1010,495.4L1014.6,477.7L1011.2,479.6L1008.8,419.3Z"/><path d="M1067.9,419.5L1068.6,444.6L1065.1,443L1070.9,460.3L1075.6,442.7L1072.1,444.5L1071.4,419.3Z"/><path d="M1130.5,419.5L1130.6,421.5L1127,419.9L1132.9,437.2L1137.5,419.5L1134.1,421.4L1134,419.3Z"/><circle cx="1194.9" cy="419.4" r="1.8"/><path d="M1259.3,419.4L1259.3,413.1L1262.8,414.9L1257.5,397.4L1252.3,414.9L1255.8,413.1L1255.8,419.4Z"/><path d="M194.8,525.7L194.8,519.9L198.3,521.6L193,504.1L187.8,521.6L191.3,519.9L191.3,525.7Z"/><circle cx="255.6" cy="525.7" r="1.8"/><path d="M319.3,525.7L319.3,524.6L321.4,525.7L318.2,515L315,525.7L317.2,524.6L317.2,525.7Z"/><path d="M382.6,525.7L382.6,482.8L386.1,484.5L380.9,467L375.6,484.5L379.1,482.8L379.1,525.7Z"/><path d="M445.2,525.7L445.2,468L448.7,469.7L443.5,452.2L438.2,469.7L441.7,468L441.7,525.7Z"/><path d="M507.8,525.7L507.2,478.4L510.7,480.1L505.2,462.7L500.2,480.3L503.7,478.5L504.3,525.7Z"/><path d="M570.5,525.7L569.8,488.7L573.4,490.4L567.8,473L562.9,490.6L566.3,488.8L567,525.7Z"/><path d="M633.1,525.7L633.1,521.5L636.6,523.2L631.3,505.7L626.1,523.2L629.6,521.5L629.6,525.7Z"/><circle cx="693.9" cy="525.7" r="1.8"/><path d="M755.8,525.7L755.8,526.4L754.3,525.7L756.6,533.1L758.8,525.7L757.3,526.4L757.3,525.7Z"/><path d="M817.6,525.7L817.6,527.3L814.3,525.7L819.2,542L824.1,525.7L820.8,527.3L820.8,525.7Z"/><path d="M880.1,525.7L880.1,534.9L876.6,533.1L881.8,550.6L887.1,533.1L883.6,534.9L883.6,525.7Z"/><path d="M942.7,525.7L942.7,542.6L939.2,540.8L944.4,558.3L949.7,540.8L946.2,542.6L946.2,525.7Z"/><path d="M1005.3,525.7L1005.3,549L1001.8,547.2L1007,564.7L1012.3,547.2L1008.8,549L1008.8,525.7Z"/><path d="M1067.9,525.7L1067.9,546.7L1064.4,544.9L1069.7,562.4L1074.9,544.9L1071.4,546.7L1071.4,525.7Z"/><path d="M1130.5,525.7L1130.5,532.8L1127,531L1132.3,548.5L1137.5,531L1134,532.8L1134,525.7Z"/><path d="M1194.2,525.7L1194.2,526.4L1192.8,525.7L1194.9,532.7L1197,525.7L1195.6,526.4L1195.6,525.7Z"/><path d="M1258.3,525.7L1258.3,524.9L1260,525.7L1257.5,517.4L1255,525.7L1256.7,524.9L1256.7,525.7Z"/><path d="M194.8,576L194.8,558.2L198.3,560L193,542.5L187.8,560L191.3,558.2L191.3,576Z"/><path d="M256.8,576L256.8,574.8L259.2,576L255.6,564L252,576L254.4,574.8L254.4,576Z"/><path d="M319.1,576L319.1,575.2L320.7,576L318.2,567.7L315.7,576L317.4,575.2L317.4,576Z"/><path d="M382.6,576L382.6,573L386.1,574.8L380.9,557.3L375.6,574.8L379.1,573L379.1,576Z"/><path d="M445.2,576L445.2,564.8L448.7,566.5L443.5,549L438.2,566.5L441.7,564.8L441.7,576Z"/><path d="M507.5,576L507.5,574.6L510.3,576L506.1,562L501.9,576L504.7,574.6L504.7,576Z"/><path d="M569.9,576L569.9,574.8L572.3,576L568.7,563.9L565.1,576L567.5,574.8L567.5,576Z"/><path d="M632.4,576L632.4,575L634.5,576L631.3,565.6L628.2,576L630.3,575L630.3,576Z"/><path d="M694.8,576L694.8,575.1L696.6,576L693.9,567L691.2,576L693,575.1L693,576Z"/><path d="M757.8,576L757.8,574.7L760.4,576L756.6,563.3L752.8,576L755.3,574.7L755.3,576Z"/><path d="M819.9,576L819.9,575.3L821.2,576L819.2,569.2L817.1,576L818.5,575.3L818.5,576Z"/><circle cx="881.8" cy="576" r="1.8"/><path d="M943.3,576L943.3,577.1L941.1,576L944.4,587L947.7,576L945.5,577.1L945.5,576Z"/><path d="M1005.3,576L1005.3,580.2L1001.8,578.5L1007,596L1012.3,578.5L1008.8,580.2L1008.8,576Z"/><path d="M1067.9,576L1067.9,593.2L1064.4,591.5L1069.7,609L1074.9,591.5L1071.4,593.2L1071.4,576Z"/><path d="M1130.5,576L1130.3,591.9L1126.8,590.1L1131.8,607.7L1137.3,590.3L1133.8,592L1134,576Z"/><circle cx="1194.9" cy="576" r="1.8"/><path d="M1259.3,576L1259.3,570.1L1262.8,571.9L1257.5,554.4L1252.3,571.9L1255.8,570.1L1255.8,576Z"/><path d="M194.8,591.1L194.8,576.1L198.3,577.8L193,560.3L187.8,577.8L191.3,576.1L191.3,591.1Z"/><path d="M257,591.1L257,589.7L259.7,591.1L255.6,577.5L251.5,591.1L254.3,589.7L254.3,591.1Z"/><path d="M319.2,591.1L319.2,590.1L321.1,591.1L318.2,581.6L315.4,591.1L317.3,590.1L317.3,591.1Z"/><path d="M382.5,591.1L382.5,589.5L385.7,591.1L380.9,575.1L376.1,591.1L379.3,589.5L379.3,591.1Z"/><path d="M444.9,591.1L444.9,589.6L447.8,591.1L443.5,576.6L439.1,591.1L442,589.6L442,591.1Z"/><path d="M507.3,591.1L507.3,589.9L509.8,591.1L506.1,578.7L502.4,591.1L504.9,589.9L504.9,591.1Z"/><path d="M569.9,591.1L569.9,590L572.2,591.1L568.7,579.6L565.3,591.1L567.6,590L567.6,591.1Z"/><path d="M632.4,591.1L632.4,590L634.5,591.1L631.3,580.4L628.1,591.1L630.3,590L630.3,591.1Z"/><path d="M695.1,591.1L695.1,589.9L697.5,591.1L693.9,579.1L690.3,591.1L692.7,589.9L692.7,591.1Z"/><path d="M758.1,591.1L758.1,589.6L761.2,591.1L756.6,575.7L751.9,591.1L755,589.6L755,591.1Z"/><path d="M820.1,591.1L820.1,590.2L821.9,591.1L819.2,582.1L816.5,591.1L818.3,590.2L818.3,591.1Z"/><circle cx="881.8" cy="591.1" r="1.8"/><path d="M943.4,591.1L943.4,592.1L941.4,591.1L944.4,601.1L947.4,591.1L945.4,592.1L945.4,591.1Z"/><path d="M1005.3,591.1L1005.3,594.9L1001.8,593.1L1007,610.6L1012.3,593.1L1008.8,594.9L1008.8,591.1Z"/><path d="M1067.9,591.1L1067.9,610.4L1064.4,608.6L1069.7,626.1L1074.9,608.6L1071.4,610.4L1071.4,591.1Z"/><path d="M1130.5,591.1L1130.3,603.7L1126.8,601.9L1131.8,619.5L1137.3,602.1L1133.8,603.8L1134,591.1Z"/><circle cx="1194.9" cy="591.1" r="1.8"/><path d="M1259.3,591.1L1259.3,584.9L1262.8,586.6L1257.5,569.1L1252.3,586.6L1255.8,584.9L1255.8,591.1Z"/><path d="M194.3,627.5L194.3,626.2L197,627.5L193,614.2L189,627.5L191.7,626.2L191.7,627.5Z"/><path d="M382.6,627.5L382.6,624.9L386.1,626.6L380.9,609.1L375.6,626.6L379.1,624.9L379.1,627.5Z"/><path d="M445.2,627.5L445.2,607.2L448.7,609L443.5,591.5L438.2,609L441.7,607.2L441.7,627.5Z"/><path d="M507.8,627.5L507.8,607.2L511.3,609L506.1,591.5L500.8,609L504.3,607.2L504.3,627.5Z"/><path d="M570.5,627.5L570.5,620.5L574,622.2L568.7,604.7L563.5,622.2L567,620.5L567,627.5Z"/><path d="M633,627.5L633,625.9L636.2,627.5L631.3,611.2L626.4,627.5L629.7,625.9L629.7,627.5Z"/><path d="M695.6,627.5L695.6,625.9L698.8,627.5L693.9,611.2L689.1,627.5L692.3,625.9L692.3,627.5Z"/><path d="M758,627.5L758,626L761,627.5L756.6,612.7L752.1,627.5L755.1,626L755.1,627.5Z"/><path d="M1258.8,627.5L1258.8,626.2L1261.5,627.5L1257.5,614.2L1253.5,627.5L1256.2,626.2L1256.2,627.5Z"/></g>
<g fill="#800080"><path d="M568.6,154.4L569.3,154.5L568.4,155.8L575.7,154.7L569,151.6L569.5,153.1L568.8,153Z"/><path d="M631.3,154.5L632.1,154.6L631.2,156.1L639.3,154.2L631.5,151.3L632.2,152.9L631.4,152.9Z"/><path d="M693.9,154.5L694.7,154.6L693.8,156.2L702.4,154.2L694.1,151.1L694.8,152.9L694,152.8Z"/><path d="M756.3,154.5L757.1,154.8L755.8,156.1L764.6,156.2L757.3,151.3L757.6,153.1L756.8,152.9Z"/><path d="M818.7,154.3L819.3,154.8L817.7,155.5L825.2,158.7L820.7,151.9L820.3,153.6L819.7,153.1Z"/><path d="M881.2,154L881.6,154.6L880,154.8L885.3,159.7L883.6,152.6L882.8,153.9L882.4,153.3Z"/><path d="M943.8,153.8L943.9,154.4L942.5,154L945.4,160.2L946.4,153.4L945.2,154.2L945.1,153.6Z"/><path d="M1187.6,149.1L1188.5,149.9L1186,150.9L1197.4,156.2L1190.8,145.5L1190.1,148.1L1189.2,147.3Z"/><path d="M1250.3,149.1L1251.2,149.8L1248.8,150.9L1260,155.7L1253.3,145.5L1252.7,148L1251.8,147.3Z"/><path d="M383.6,328.1L387,297.8L392.3,301.2L387.1,272.4L375.6,299.3L381.5,297.1L378.1,327.5Z"/><path d="M446.2,328.3L452.5,290.9L457.5,294.6L453.9,265.6L441,291.8L447,290L440.7,327.3Z"/><path d="M508.7,328.9L513.7,316.6L517.8,321.3L520.6,292.2L502.3,315L508.5,314.5L503.5,326.7Z"/><path d="M569.8,329.5L571.4,328.4L571.9,332.8L585.3,317.1L565.5,322.8L569.3,325.1L567.6,326.1Z"/><path d="M630.4,329.6L632.2,330.5L628.5,333.1L649.1,337.3L634.2,322.5L634.1,327L632.3,326Z"/><path d="M691.6,329.3L695.9,336.4L689.7,337L711.4,356.5L704,328.2L700.7,333.5L696.3,326.3Z"/><path d="M754,328.8L760.8,345.8L754.6,345.3L772.9,368.1L770.2,339L766,343.7L759.2,326.8Z"/><path d="M816.5,328.6L824,354.4L817.8,353.2L833.7,377.8L834,348.6L829.4,352.8L821.9,327Z"/><path d="M879.1,328.5L885.1,353.5L879,352L893.7,377.3L895.3,348.1L890.5,352.1L884.5,327.1Z"/><path d="M941.7,328.3L945.6,349.2L939.6,347.4L953,373.4L956.1,344.3L951.1,348.1L947.2,327.3Z"/><path d="M383.7,419.3L382.3,362.5L387.9,365.2L378.9,337.4L371.1,365.6L376.7,362.7L378.1,419.5Z"/><path d="M446.3,419.4L445.8,347.6L451.4,350.3L442.9,322.4L434.6,350.5L440.2,347.6L440.7,419.4Z"/><path d="M508.9,419.4L509.3,363.6L514.9,366.5L506.7,338.4L498.1,366.3L503.7,363.6L503.3,419.4Z"/><path d="M571.5,419.5L572.2,387.7L577.7,390.6L569.9,362.4L560.9,390.2L566.6,387.5L565.9,419.3Z"/><path d="M634.1,419.8L634.5,416.7L639.7,420.3L635.2,391.4L623,418L629,416L628.6,419Z"/><path d="M692.8,419.9L693.3,421.1L690.4,421L699.2,431.3L697.5,417.8L695.7,420.1L695.1,418.9Z"/><path d="M753.8,419.8L755.7,433.3L749.7,431.3L761.9,457.9L766.4,429L761.2,432.6L759.3,419Z"/><path d="M816.4,419.6L819.9,461.2L814.1,458.9L824.8,486.1L830.8,457.5L825.5,460.8L822,419.2Z"/><path d="M879,419.6L882.4,471.4L876.6,469L886.8,496.4L893.4,467.9L888,471.1L884.6,419.2Z"/><path d="M941.6,419.5L944.2,479.3L938.4,476.8L948,504.4L955.2,476.1L949.8,479.1L947.2,419.3Z"/><path d="M1004.2,419.5L1006.2,470.3L1000.5,467.8L1010,495.4L1017.3,467.1L1011.8,470.1L1009.8,419.3Z"/><path d="M383.7,525.7L383.7,492.2L389.3,495L380.9,467L372.5,495L378.1,492.2L378.1,525.7Z"/><path d="M446.3,525.7L446.3,477.4L451.9,480.2L443.5,452.2L435.1,480.2L440.7,477.4L440.7,525.7Z"/><path d="M508.9,525.7L508.4,487.9L514,490.6L505.2,462.7L497.2,490.8L502.8,487.9L503.3,525.7Z"/><path d="M571.5,525.7L571,498.1L576.7,500.9L567.8,473L559.9,501.1L565.4,498.2L565.9,525.7Z"/><path d="M195.8,576L195.8,567.7L201.4,570.5L193,542.5L184.6,570.5L190.2,567.7L190.2,576Z"/><path d="M446.2,576L446.2,573.3L451.6,576L443.5,549L435.4,576L440.8,573.3L440.8,576Z"/><path d="M1066.9,576L1066.9,583.8L1061.3,581L1069.7,609L1078.1,581L1072.5,583.8L1072.5,576Z"/><path d="M1129.5,576L1129.4,582.5L1123.8,579.6L1131.8,607.7L1140.6,579.8L1135,582.5L1135.1,576Z"/><path d="M195.8,591.1L195.8,585.5L201.4,588.3L193,560.3L184.6,588.3L190.2,585.5L190.2,591.1Z"/><path d="M1066.9,591.1L1066.9,600.9L1061.3,598.1L1069.7,626.1L1078.1,598.1L1072.5,600.9L1072.5,591.1Z"/><path d="M1129.5,591.1L1129.4,594.3L1123.9,591.4L1131.8,619.5L1140.7,591.7L1135,594.4L1135.1,591.1Z"/><path d="M446.3,627.5L446.3,616.7L451.9,619.5L443.5,591.5L435.1,619.5L440.7,616.7L440.7,627.5Z"/><path d="M508.9,627.5L508.9,616.7L514.5,619.5L506.1,591.5L497.7,619.5L503.3,616.7L503.3,627.5Z"/></g>
</g>
<defs><clipPath id="clipB"><rect x="144.4" y="953.0" width="1156.6" height="385.4000000000001"/></clipPath></defs>
<g clip-path="url(#clipB)">
<path d="M770.9,941.8L819.1,941.8L855.2,941.8L823.1,978.4L819.1,979.5L770.9,980.5L746,978.4L765.5,941.8Z" fill="#3b4cc0" stroke="#3b4cc0" stroke-width="0.6" fill-rule="evenodd"/>
<path d="M722.7,966L747.7,941.8L765.5,941.8L746,978.4L770.9,980.5L819.1,979.5L823.1,978.4L855.2,941.8L867.3,941.8L884,941.8L867.3,952.6L843.2,978.4L819.1,985L770.9,987.8L722.7,984.7L715.8,978.4Z" fill="#4961d2" stroke="#4961d2" stroke-width="0.6" fill-rule="evenodd"/>
<path d="M722.7,948.7L729.8,941.8L747.7,941.8L722.7,966L715.8,978.4L722.7,984.7L770.9,987.8L819.1,985L843.2,978.4L867.3,952.6L884,941.8L915.5,941.8L963.7,941.8L1011.8,941.8L1060,941.8L1070.8,941.8L1060,944.5L1011.9,954L963.7,971.4L915.5,943.2L867.3,974.1L863.3,978.4L819.1,990.5L770.9,995.2L722.7,993.6L706.3,978.4ZM1011.8,1045.7L1015.8,1051.4L1011.8,1055L1001.5,1051.4Z" fill="#6a8bef" stroke="#6a8bef" stroke-width="0.6" fill-rule="evenodd"/>
<path d="M722.7,941.8L729.8,941.8L722.7,948.7L706.3,978.4L722.7,993.6L770.9,995.2L819.1,990.5L863.3,978.4L867.3,974.1L915.5,943.2L963.7,971.4L1011.8,954L1060,944.5L1070.8,941.8L1108.2,941.8L1156.4,941.8L1184.5,941.8L1156.4,953L1108.2,967.4L1060,970.5L1011.8,978.4L1011.8,978.4L963.7,990.1L934.3,978.4L915.5,966.7L896.9,978.4L867.3,985.1L819.1,996.1L770.9,1002.5L722.7,1002.5L696.8,978.4L717.5,941.8ZM1108.2,1002.1L1111.7,1014.9L1108.2,1016.7L1087.6,1014.9ZM1011.8,1026.7L1028.8,1051.4L1011.8,1067.2L977.7,1087.9L963.7,1097.2L952.4,1087.9L963.7,1055.9L967.1,1051.4ZM1001.5,1051.4L1011.8,1055L1015.8,1051.4L1011.8,1045.7Z" fill="#8db0fe" stroke="#8db0fe" stroke-width="0.6" fill-rule="evenodd"/>
<path d="M385.4,968.9L394.8,978.4L385.4,1001.8L368.1,978.4ZM696.8,978.4L722.7,1002.5L770.9,1002.5L819.1,996.1L867.3,985.1L896.9,978.4L915.5,966.7L934.3,978.4L963.7,990.1L1011.8,978.4L1011.8,978.4L1060,970.5L1108.2,967.4L1156.4,953L1184.5,941.8L1204.6,941.8L1217.3,941.8L1204.6,949.6L1156.4,968.8L1134.5,978.4L1134.8,1014.9L1108.2,1028.9L1060,1028.1L1041.8,1051.4L1011.8,1079.4L997.8,1087.9L963.7,1110.5L936.3,1087.9L915.5,1060L910,1051.4L904,1014.9L867.3,993.6L819.1,1001.6L770.9,1009.8L722.7,1011.3L705.9,1014.9L674.5,1026.5L665.1,1014.9L674.5,1001.8L687.3,978.4L708.9,941.8L717.5,941.8ZM941.9,1014.9L963.7,1030L993.9,1014.9L963.7,1005.2ZM1087.6,1014.9L1108.2,1016.7L1111.7,1014.9L1108.2,1002.1ZM967.1,1051.4L963.7,1055.9L952.4,1087.9L963.7,1097.2L977.7,1087.9L1011.8,1067.2L1028.8,1051.4L1011.8,1026.7Z" fill="#afcafc" stroke="#afcafc" stroke-width="0.6" fill-rule="evenodd"/>
<path d="M337.2,966.2L385.4,950L406.5,941.8L433.5,941.8L481.7,941.8L529.9,941.8L545.3,941.8L529.9,950.7L481.7,949.4L433.5,954.4L413.7,978.4L398.3,1014.9L390.4,1051.4L385.4,1078.8L366.1,1051.4L369,1014.9L337.2,980.8L329.1,978.4ZM368.1,978.4L385.4,1001.8L394.8,978.4L385.4,968.9ZM687.3,978.4L674.5,1001.8L665.1,1014.9L674.5,1026.5L705.9,1014.9L722.7,1011.3L770.9,1009.8L819.1,1001.6L867.3,993.6L904,1014.9L910,1051.4L915.5,1060L936.3,1087.9L963.7,1110.5L997.8,1087.9L1011.8,1079.4L1041.8,1051.4L1060,1028.1L1108.2,1028.9L1134.8,1014.9L1134.5,978.4L1156.4,968.8L1204.6,949.6L1217.3,941.8L1242.7,941.8L1204.6,965.1L1171.8,978.4L1161.6,1014.9L1156.4,1018.8L1108.2,1041L1060,1044.7L1054.8,1051.4L1026.3,1087.9L1011.8,1098.3L963.7,1123.9L920.3,1087.9L915.5,1081.4L896.5,1051.4L889.3,1014.9L867.3,1002.1L819.1,1007.1L779.4,1014.9L770.9,1024.8L722.7,1036.8L674.5,1042.1L652.6,1014.9L674.5,984.3L677.7,978.4L700.3,941.8L708.9,941.8ZM963.7,1005.2L993.9,1014.9L963.7,1030L941.9,1014.9ZM626.3,1045.5L645.6,1051.4L626.3,1072.2L617.1,1051.4ZM1156.4,1197.4L1156.4,1197.4L1156.4,1197.4ZM1108.2,1233.9L1108.2,1233.9L1108.2,1233.9ZM1060,1270.4L1060,1270.4L1060,1270.4ZM529.9,1295.1L554,1307L578.1,1328.9L626.3,1328.9L645.6,1343.5L626.3,1343.5L578.1,1343.5L529.9,1343.5L484.5,1343.5L488.6,1307ZM819.1,1313L867.3,1313L893.6,1343.5L867.3,1343.5L819.1,1343.5L792.3,1343.5Z" fill="#cfdaea" stroke="#cfdaea" stroke-width="0.6" fill-rule="evenodd"/>
<path d="M192.6,967.9L214.5,941.8L240.8,941.8L289,941.8L337.2,941.8L385.4,941.8L406.5,941.8L385.4,950L337.2,966.2L329.1,978.4L337.2,980.8L369,1014.9L366.1,1051.4L385.4,1078.8L390.4,1051.4L398.3,1014.9L413.7,978.4L433.5,954.4L481.7,949.4L529.9,950.7L545.3,941.8L562.6,941.8L529.9,960.5L481.7,963.9L433.5,977.2L432.6,978.4L416.2,1014.9L398.9,1051.4L390.7,1087.9L391.7,1124.4L404.3,1160.9L433.5,1197.4L433.5,1197.4L442.4,1233.9L481.7,1263.8L529.9,1254.7L562.5,1233.9L568.7,1197.4L572.5,1160.9L578.1,1138.4L598.2,1124.4L578.1,1087.9L578.1,1087.9L578.1,1087.9L594.2,1051.4L626.3,1030.9L640.1,1014.9L667.8,978.4L674.5,969.3L691.7,941.8L700.3,941.8L677.7,978.4L674.5,984.3L652.6,1014.9L674.5,1042.1L722.7,1036.8L770.9,1024.8L779.4,1014.9L819.1,1007.1L867.3,1002.1L889.3,1014.9L896.5,1051.4L915.5,1081.4L920.3,1087.9L963.7,1123.9L1011.8,1098.3L1026.3,1087.9L1054.8,1051.4L1060,1044.7L1108.2,1041L1156.4,1018.8L1161.6,1014.9L1171.8,978.4L1204.6,965.1L1242.7,941.8L1252.8,941.8L1289.9,941.8L1252.8,969.2L1225.3,978.4L1252.8,989.9L1301,1002.4L1301,1014.9L1301,1051.4L1301,1087.9L1301,1109L1283.4,1124.4L1301,1134.3L1301,1160.9L1301,1197.4L1301,1233.9L1301,1270.4L1301,1307L1301,1343.5L1281.7,1343.5L1252.8,1323.6L1204.6,1343.5L1204.6,1343.5L1156.4,1343.5L1108.2,1343.5L1060,1343.5L1011.8,1343.5L963.7,1343.5L915.5,1343.5L893.6,1343.5L867.3,1313L819.1,1313L792.3,1343.5L770.9,1343.5L722.7,1343.5L674.5,1343.5L645.6,1343.5L626.3,1328.9L578.1,1328.9L554,1307L529.9,1295.1L488.6,1307L484.5,1343.5L481.7,1343.5L433.5,1343.5L385.4,1343.5L337.2,1343.5L289,1343.5L240.8,1343.5L192.6,1343.5L144.4,1343.5L144.4,1307L144.4,1270.4L144.4,1233.9L144.4,1197.4L144.4,1160.9L144.4,1124.4L144.4,1087.9L144.4,1051.4L144.4,1022.8L157.8,1014.9L144.4,998.6L144.4,978.4L144.4,971.1ZM307,1014.9L337.2,1044.1L346.3,1014.9L337.2,1005.1ZM807.7,1014.9L773.4,1051.4L776.2,1087.9L776.1,1124.4L819.1,1152L867.3,1148.1L900.2,1124.4L906.2,1087.9L882.9,1051.4L874.6,1014.9L867.3,1010.6L819.1,1012.7ZM617.1,1051.4L626.3,1072.2L645.6,1051.4L626.3,1045.5ZM1105.2,1087.9L1060,1094.7L1019.6,1124.4L1011.8,1130.3L972.7,1160.9L987.2,1197.4L984.8,1233.9L1011.8,1257L1060,1243L1072,1233.9L1108.2,1205.9L1119.4,1197.4L1111.4,1160.9L1108.2,1154.8L1100.5,1124.4L1108.2,1090.6L1122,1087.9L1108.2,1083.6ZM1156.4,1197.4L1156.4,1197.4L1156.4,1197.4ZM1108.2,1233.9L1108.2,1233.9L1108.2,1233.9ZM1060,1270.4L1060,1270.4L1060,1270.4Z" fill="#e9d5cb" stroke="#e9d5cb" stroke-width="0.6" fill-rule="evenodd"/>
<path d="M192.6,941.8L214.5,941.8L192.6,967.9L144.4,971.1L144.4,941.8ZM433.6,977.2L481.7,963.9L529.9,960.5L562.6,941.8L578.1,941.8L579,941.8L578.1,944.4L529.9,970.4L481.7,978.4L481.7,978.4L434.3,1014.9L433.5,1015.2L407.3,1051.4L397.4,1087.9L401.8,1124.4L426.8,1160.9L433.5,1169.3L446.9,1197.4L453.4,1233.9L481.7,1255.4L522.1,1233.9L529.9,1226.8L556,1197.4L565.4,1160.9L573.8,1124.4L568.1,1087.9L575.5,1051.4L578.1,1048.2L626.3,1016.3L627.6,1014.9L657.5,978.4L674.5,955.6L683.1,941.8L691.7,941.8L674.5,969.3L667.8,978.4L640.1,1014.9L626.3,1030.9L594.2,1051.4L578.1,1087.9L578.1,1087.9L578.1,1087.9L598.2,1124.4L578.1,1138.4L572.5,1160.9L568.7,1197.4L562.5,1233.9L529.9,1254.7L481.7,1263.8L442.4,1233.9L433.5,1197.4L433.5,1197.4L404.3,1160.9L391.7,1124.4L390.7,1087.9L398.9,1051.4L416.2,1014.9L432.6,978.4ZM1252.8,969.2L1289.9,941.8L1301,941.8L1301,978.4L1301,1002.4L1252.8,989.9L1225.3,978.4ZM157.8,1014.9L144.4,1022.8L144.4,1014.9L144.4,998.6ZM337.2,1005.1L346.3,1014.9L337.2,1044.1L307,1014.9ZM819.1,1012.7L867.3,1010.6L874.6,1014.9L882.9,1051.4L906.2,1087.9L900.2,1124.4L867.3,1148.1L819.1,1152L776.1,1124.4L776.2,1087.9L773.4,1051.4L807.7,1014.9ZM785.7,1051.4L789.6,1087.9L793.5,1124.4L819.1,1140.8L867.3,1129.9L874.9,1124.4L893,1087.9L869.3,1051.4L867.3,1043L819.1,1021.5ZM1108.2,1083.6L1122,1087.9L1108.2,1090.6L1100.5,1124.4L1108.2,1154.8L1111.4,1160.9L1119.4,1197.4L1108.2,1205.9L1072,1233.9L1060,1243L1011.8,1257L984.8,1233.9L987.2,1197.4L972.7,1160.9L1011.8,1130.3L1019.6,1124.4L1060,1094.7L1105.2,1087.9ZM1050.7,1124.4L1011.8,1153.8L1002.8,1160.9L1011.8,1188.3L1015,1197.4L1011.8,1212L1008.3,1233.9L1011.8,1236.9L1020.7,1233.9L1060,1222.4L1092.5,1197.4L1086.9,1160.9L1069.4,1124.4L1060,1117.6ZM1301,1109L1301,1124.4L1301,1134.3L1283.4,1124.4ZM1252.8,1323.6L1281.7,1343.5L1252.8,1343.5L1204.6,1343.5Z" fill="#f6bda2" stroke="#f6bda2" stroke-width="0.6" fill-rule="evenodd"/>
<path d="M529.9,970.4L578.1,944.4L579,941.8L587.6,941.8L578.1,969.5L547.5,978.4L529.9,980.6L481.7,998L459.8,1014.9L433.5,1026.9L415.8,1051.4L404.1,1087.9L411.9,1124.4L433.5,1151.9L447.6,1160.9L460.3,1197.4L464.4,1233.9L481.7,1247.1L506.4,1233.9L529.9,1212.5L543.3,1197.4L558.3,1160.9L565.2,1124.4L558,1087.9L566.7,1051.4L578.1,1037.4L611.9,1014.9L626.3,1003.7L647.3,978.4L674.5,941.8L674.5,941.8L683.1,941.8L674.5,955.6L657.5,978.4L627.6,1014.9L626.3,1016.3L578.1,1048.2L575.5,1051.4L568.1,1087.9L573.8,1124.4L565.4,1160.9L556,1197.4L529.9,1226.8L522.1,1233.9L481.7,1255.4L453.4,1233.9L446.9,1197.4L433.6,1169.3L426.8,1160.9L401.8,1124.4L397.4,1087.9L407.3,1051.4L433.5,1015.2L434.3,1014.9L481.7,978.4L481.7,978.4ZM819.1,1021.5L867.3,1043L869.3,1051.4L893,1087.9L874.9,1124.4L867.3,1129.9L819.1,1140.8L793.5,1124.4L789.6,1087.9L785.7,1051.4ZM798.1,1051.4L803,1087.9L810.9,1124.4L819.1,1129.6L838.4,1124.4L867.3,1108.9L879.8,1087.9L867.3,1068.6L851.2,1051.4L819.1,1032.6ZM1060,1117.6L1069.4,1124.4L1086.9,1160.9L1092.5,1197.4L1060,1222.4L1020.7,1233.9L1011.8,1236.9L1008.3,1233.9L1011.8,1212L1015,1197.4L1011.8,1188.3L1002.8,1160.9L1011.8,1153.8L1050.7,1124.4ZM1049.3,1160.9L1046.1,1197.4L1060,1205.2L1070.1,1197.4L1064.5,1160.9L1060,1152.8Z" fill="#f49a7b" stroke="#f49a7b" stroke-width="0.6" fill-rule="evenodd"/>
<path d="M578.1,969.5L587.6,941.8L596.2,941.8L596.6,978.4L626.3,991.4L637.1,978.4L663.8,941.8L674.5,941.8L647.3,978.4L626.3,1003.7L611.9,1014.9L578.1,1037.4L566.7,1051.4L558,1087.9L565.2,1124.4L558.3,1160.9L543.3,1197.4L529.9,1212.5L506.4,1233.9L481.7,1247.1L464.4,1233.9L460.3,1197.4L447.6,1160.9L433.5,1151.9L411.9,1124.4L404.1,1087.9L415.8,1051.4L433.5,1026.9L459.8,1014.9L481.7,998L529.9,980.6L547.5,978.4ZM484.9,1014.9L481.7,1017.8L433.5,1038.5L424.2,1051.4L410.8,1087.9L422,1124.4L433.5,1139.1L471.8,1124.4L481.7,1121.9L486,1124.4L481.7,1135.4L467.7,1160.9L473.7,1197.4L475.5,1233.9L481.7,1238.7L490.7,1233.9L529.9,1198.1L530.6,1197.4L551.2,1160.9L556.6,1124.4L548,1087.9L558,1051.4L578.1,1026.7L595.8,1014.9L578.1,991.9L529.9,992ZM819.1,1032.6L851.2,1051.4L867.3,1068.6L879.8,1087.9L867.3,1108.9L838.4,1124.4L819.1,1129.6L810.9,1124.4L803,1087.9L798.1,1051.4ZM810.4,1051.4L816.4,1087.9L819.1,1097.9L857.6,1087.9L832.3,1051.4L819.1,1043.6ZM1060,1152.8L1064.5,1160.9L1070.1,1197.4L1060,1205.2L1046.1,1197.4L1049.3,1160.9Z" fill="#e36c55" stroke="#e36c55" stroke-width="0.6" fill-rule="evenodd"/>
<path d="M624.9,978.4L626.3,979L626.8,978.4L653.1,941.8L663.8,941.8L637.1,978.4L626.3,991.4L596.6,978.4L596.2,941.8L604.8,941.8ZM529.9,992L578.1,991.9L595.8,1014.9L578.1,1026.7L558,1051.4L548,1087.9L556.6,1124.4L551.2,1160.9L530.6,1197.4L529.9,1198.1L490.7,1233.9L481.7,1238.7L475.5,1233.9L473.7,1197.4L467.7,1160.9L481.7,1135.4L486,1124.4L481.7,1121.9L471.8,1124.4L433.5,1139.1L422,1124.4L410.8,1087.9L424.2,1051.4L433.5,1038.5L481.7,1017.8L484.9,1014.9ZM507.4,1014.9L481.7,1038.8L433.5,1050.2L432.7,1051.4L417.5,1087.9L432,1124.4L433.5,1126.3L438.5,1124.4L481.7,1113.4L500.2,1124.4L488,1160.9L529.9,1185.7L544.1,1160.9L548,1124.4L538,1087.9L549.2,1051.4L578.1,1015.9L579.7,1014.9L578.1,1012.8L529.9,1003.5ZM819.1,1043.6L832.3,1051.4L857.6,1087.9L819.1,1097.9L816.4,1087.9L810.4,1051.4Z" fill="#c53334" stroke="#c53334" stroke-width="0.6" fill-rule="evenodd"/>
<path d="M626.3,941.8L653.1,941.8L626.8,978.4L626.3,979L624.9,978.4L604.8,941.8ZM529.9,1003.5L578.1,1012.8L579.7,1014.9L578.1,1015.9L549.2,1051.4L538,1087.9L548,1124.4L544.1,1160.9L529.9,1185.7L488,1160.9L500.2,1124.4L481.7,1113.4L438.5,1124.4L433.5,1126.3L432,1124.4L417.5,1087.9L432.7,1051.4L433.5,1050.2L481.7,1038.8L507.4,1014.9Z" fill="#b40426" stroke="#b40426" stroke-width="0.6" fill-rule="evenodd"/>
</g>
<g clip-path="url(#clipB)" fill="none" stroke="#808080" stroke-width="5.9" stroke-linejoin="round" stroke-linecap="round">
<path d="M268,951L269.6,953.9L270.7,956.1L273.3,958.3L273.4,958.5L274.7,960.4L276.2,961.9L279.1,962.9L281,964.8L281.7,966L284,967L285.9,969L288,969.4L290.1,972L291.5,971.8L293.5,973.9L296.5,974.2L298.5,975.1L299.8,974.3L302.5,975.7L304.2,975.6L305.4,977.7L306.2,979.1L307.7,981.8L309.1,982.4L310.3,983.9L312,984.5L314.4,985.5L316.2,987.1L318.4,988.9L320.5,989.7L322.1,990.5L324.3,991.2L326.4,991.8L328.1,992.3L332,992.2L333.8,992.9L336.1,992.5L338.2,991.7L339.4,991.2L341.7,990.2L343.9,990.3L346.1,990.2L345.4,990.6L343.7,991.3L342.4,993.5L340.4,994L338.4,995.5L335.8,996.9L333.5,997L331.3,997.4L328.6,999L327.6,1000.1L325.6,1000.1L322.5,1001L322.2,1002.5L319.6,1002.8L317.3,1003.3L318.1,1007.2L320.3,1008.4L321.3,1009.8L322.4,1012.7L324.7,1013.9L325.7,1015.6L328.7,1016.6L328.8,1017.4L330.5,1020.4L333.1,1021.6L334.2,1022.1L336.9,1024.7L338.1,1024.7L340.9,1026.6L342.4,1027.9L344.2,1030.2L346,1030.4L347.9,1031.1L348.9,1032.7L351.8,1033.3L354,1034.3L356.4,1033.5L357.2,1033.1L360.6,1034.3L362.6,1032.8L364.1,1032.9L367.4,1030.9L368.5,1031.6L371.8,1029.7L373,1029L375.7,1027.4L378.4,1027.3L379.4,1024.3L380.8,1022.9L380.7,1020.8L381.7,1018.5L380.8,1015.1L382.3,1013.4L382.2,1011.1L382.5,1008.9L381.6,1005.2L382.5,1003.7L384.7,1002.9L385.7,1003.2L389.1,1004.2L388.1,1006.9L388.3,1009.1L388.2,1010.8L387.9,1012.8L386.9,1016.3L386.4,1017.7L386.2,1020.6L386.5,1021.9L388,1024.2L389.1,1027.4L389.6,1029.4L389.7,1030.5L390.2,1033.4L390.9,1035.3L390.6,1038.9L390.1,1040.4L390.8,1042.4L388.9,1045.4L389.4,1047.4L388.3,1049.3L388,1051.2L390,1053L390.1,1056.7L392.1,1057.9L392.4,1060.2L392.7,1062.5L392.9,1064.4L393.3,1066.3L395.2,1067.4L395.9,1069.3L396.5,1070.9L396.3,1074.4L397.4,1075.3L396.6,1078.7L396.9,1079.5L397.8,1082.4L398,1084.9L397.8,1087.1L398,1090.1L399.2,1092.1L400.2,1093.4L400.8,1096.7L400.6,1098.4L400.6,1101L401.3,1102.8L401.8,1104.2L403.2,1107.2L403.8,1110L404.8,1110.9L404.6,1114L405.4,1116.2L405.9,1119L406.5,1120.6L407.6,1122L407.9,1124.3L408.1,1126.2L409,1128.8L410.3,1131.6L411.6,1133.5L412.5,1135.5L413,1138L413.5,1139.6L415.1,1142.5L414.7,1144.1L417.3,1145.2L417.1,1148.4L417.7,1150.4L419.8,1152.4L421,1154.8L421.8,1156.1L422.4,1158.1L424.3,1160.9L426,1161.5L425.1,1163.7L426.1,1166.9L427.5,1168.7L428.2,1169.9L428.8,1173.9L430.2,1175.1L429.7,1177.7L430.7,1179.1L430.9,1180.5L431.8,1182.6L431.8,1185L432.7,1186.9L434.7,1189.1L435.2,1190.4L437.2,1192.7L437.2,1195.7L438.1,1197.7L439.7,1198.7L442,1200.8L442.6,1202.7L444.1,1205.2L444.4,1206L445.1,1208.6L445.9,1210.5L446.7,1212.3L448.2,1214.5L449.5,1216.5L449.9,1217.9L451.6,1219.6L452.3,1222.5L453.6,1223.5L453.4,1225.5L455,1227.1L455.3,1228.8L455.4,1230.7L456.1,1233.6L458.2,1234.9L457.1,1238.2L458.2,1240L458.2,1241.6L459.9,1244.6L460.7,1247.5L460.3,1249.1L461,1251.1L462,1254.3L463.6,1255.1L464.9,1258.8L466.7,1260.2L466.6,1262.8L469.7,1264.8L470.3,1266.1L472.4,1267.5L474,1270.1L474.2,1272.6L476.6,1272.7L478,1275.5L479.8,1276.9L482.7,1277.1L484,1277.6L486,1276.9L487.8,1275.7L489.3,1274.6L492.1,1272.7L493,1270.8L493.9,1268.4L494.1,1266.7L494.2,1264.7L495.7,1261.9L495.1,1259.4L496.9,1258.5L500.5,1258.1L502,1255.9L505,1255.2L506.7,1254.5L508.1,1253.9L509.7,1251.6L512.7,1249.9L513.2,1248.4L515.7,1246.3L515.6,1244.8L516.9,1242.5L520.6,1239.5L522.1,1238.4L523,1236L524.4,1234.3L526,1232.9L528.1,1231.5L529,1229.3L529.2,1226.1L529,1223.5L527.9,1222.9L526.9,1219.8L525.6,1217.8L526.2,1216.6L525.4,1214.3L524.9,1210.7L524.8,1209.5L525.8,1207.4L526,1204.4L527.3,1202.5L528.2,1199.9L529,1197.8L529.5,1194.7L529.2,1192.8L530.1,1191.3L530.1,1189L531.4,1185.6L531.1,1184.3L531.7,1181.4L532.6,1179.3L533,1177.5L532.2,1176L532.5,1173.8L532.7,1171.5L532.3,1168.3L530.3,1165.6L529.4,1164.3L528.9,1161.4L528.4,1159.8L529.7,1157.9L529.7,1155.3L529.9,1153.5L531,1151.1L531.2,1150.4L531.5,1147.2L531.5,1145.5L532,1143.6L533.7,1142.5L534,1140.4L533.9,1138.8L535.1,1135.4L536.4,1133.6L537.9,1132.7L538.3,1130.5L540.4,1129.2L542,1127.1L543.7,1126.7L545.9,1125.4L548.8,1123.8L550.1,1123.5L553,1122.3L554.9,1120.8L557.6,1121L559.3,1120.5L562.9,1119.6L564.9,1118.1L566,1117.5L567.7,1115.2L570.5,1112.6L572.3,1110.9L572.7,1109.2L575.1,1107.1L577.1,1106.9L579.5,1104.1L581.6,1102.4L582.4,1101.3L585.3,1099.1L586.5,1098.7L587.5,1097.6L590.6,1096.5L591.1,1095.1L593.5,1093.8L595.7,1090.9L597.7,1090.4L598.9,1089.1L600.5,1086.5L603.1,1085.6L603.6,1083.7L606.2,1083.7L607.5,1082.1L609.1,1079.8L610.8,1078.1L613.1,1076.7L614.1,1075.8L616.3,1073.8L618,1071.6L620.6,1070.8L623,1068.5L624,1066.4L624,1064.3L625.8,1062.8L626.7,1061.9L628,1059.9L629.3,1057L629.7,1054.9L630,1053.9L631.2,1051L632.3,1051.2L635.4,1050.1L636.5,1049.4L639.2,1047.3L640.4,1047.2L644.1,1046.3L645,1045.6L647.1,1044.6L649.6,1042.6L652,1042.5L654.8,1042L655.7,1041.1L657.7,1040.3L660.3,1039.3L661.6,1038.7L662.5,1036.4L661.8,1034.1L663.6,1031.5L662.4,1029.8L663.2,1026.5L663.4,1025.4L662.5,1022.8L663.5,1021.4L664.1,1018.8L667.1,1017.3L669,1015.6L670.2,1013.7L670.9,1012.8L673,1009.9L675.1,1009.7L676.3,1007.2L678.4,1006.3L680.7,1004.6L681.9,1003.2L682.8,1005.4L685.6,1007.4L686.3,1010.2L689.3,1011L690.7,1010.4L694.1,1010.9L696.7,1011.7L699.4,1010.1L701.5,1009.3L703.6,1009.2L706.7,1007.7L709.8,1007.9L710.8,1006.2L714,1005.2L715.3,1005L717.8,1003.9L720.5,1002.6L722.6,1001.8L724.7,1001L727.2,1000.3L727.9,997.6L727.7,996.4L728.3,993.4L728.1,990.6L728.9,989.4L728.5,986.9L729.4,985L728.2,982.1L731.6,981.7L733.4,980.5L733.2,983.6L734.6,985.5L735.4,987.3L736.6,990.9L735.2,991.2L736.2,994.9L736.7,996.9L738.8,995.7L742.2,995.7L743.7,994.9L746.6,994.5L748.2,993.8L751.5,993.4L752.5,995.6L755.9,998.9L756.4,999.9L757.7,1003.5L758,1005.6L758.6,1007.5L758.7,1009L757.3,1011.9L758.8,1014L757.3,1016.9L759.6,1018.6L760.2,1020.3L760.5,1021.4L762.9,1023.9L764.1,1025.3L765.4,1027.1L766.2,1030.1L768.4,1030.5L769.5,1031.6L770.9,1033.9L772.6,1034.7L775.4,1035.7L777.3,1037.6L778.8,1039.8L780.3,1039.8L781.9,1042.3L783,1044.2L785.3,1045.8L786.1,1047.4L787,1050L789.8,1051L791.3,1052L793.6,1051.6L793.4,1053.6L795,1056.6L795.6,1057.6L795.1,1060.5L795.9,1063.2L794.2,1066.6L792.1,1067.9L790.4,1070.9L793.8,1070.9L796.3,1072.7L799.2,1073.3L802.3,1072.8L802,1076.2L803.3,1077L804.7,1080L804.9,1083.2L806.4,1085.8L807,1086.6L809.2,1089.8L810.3,1093L810.3,1094.4L810.1,1097.5L811.8,1099.9L811,1102.6L810.3,1104.5L808.1,1106.6L808.2,1108.8L806.6,1110.4L806.4,1112.8L805.8,1115.2L805.8,1117.6L804.8,1119.8L804.2,1120.9L803.7,1123.5L805.6,1124.6L806.2,1125.7L807.7,1126.9L809.5,1128.3L812.5,1129.9L814.6,1129.9L816.7,1131.3L820.2,1131L822.3,1130.8L824.2,1131.1L827.3,1130.1L829.7,1128.7L830.5,1126.6L833.7,1126L835.4,1123.6L837.1,1122.7L839.3,1121.2L839.1,1120.5L840.9,1118.1L843.8,1117.3L845.6,1115.1L847.3,1113.1L850.4,1112.1L851.7,1110.6L852.1,1109.6L852.7,1106.2L853.8,1104.1L854.5,1102.7L854.5,1100.2L854.6,1098L857,1099.3L858,1102.4L860.6,1104.3L861.5,1105.9L863.3,1108.3L864.9,1111.5L866,1113.7L867.4,1116L869.6,1116L871.9,1116.1L872.5,1118.5L870.9,1121L871.4,1122.8L870.8,1124.6L870.6,1126.9L869.9,1130.7L870.8,1131.8L871.6,1134.3L871.9,1136L871.8,1138.3L871,1139.5L871.5,1141.8L873.4,1144.8L873.2,1147.4L872.9,1149.2L874.2,1150.6L875.3,1153.4L875.7,1155.3L877,1156.8L877.9,1159.1L878.9,1161.5L879.2,1164.1L879.6,1164.6L880.2,1166.9L881.6,1168.5L881.6,1171.1L881.3,1173.4L882.8,1175.1L884.1,1176.7L884.2,1179.2L884.6,1181.5L885.6,1184.6L885.2,1185.9L887,1187.6L886.9,1190.8L887.2,1192.1L888.9,1194.3L888.3,1197L888.8,1197.4L890.4,1199.7L890.6,1203.1L891.6,1204.8L892.1,1206L892,1209.1L891.2,1210L891.4,1212.7L890.3,1215.2L890.1,1217.9L890.8,1218.9L889.3,1221.1L890.5,1223L889.4,1224.9L889,1228.3L888.5,1228.8L888.5,1232.3L887.6,1233.2L887.3,1236.5L887,1237.2L887,1239.6L886.3,1241.9L885.2,1243.9L884.9,1246.2L884.2,1249.1L885,1250.7L883.5,1253.2L884.3,1253.7L882.6,1255.8L882.2,1259.1L883.1,1260.7L881.7,1263.2L882.1,1264.8L881.1,1266.7L881.1,1268.8L880.6,1271.7L881.4,1273.3L881.4,1275.5L881.4,1277.7L883.2,1278.6L882.7,1280.5L883.7,1283.5L884.3,1285.1L887.8,1284.8L889.4,1285.2L891.5,1286.2L892.5,1286.7L895.7,1286.8L898.1,1289.4L899.2,1292.4L901.8,1293.9L902.7,1295.8L903.7,1297L905.4,1297.8L906.9,1299.7L907.2,1302.3L909.4,1304.1L911.7,1305.1L911.7,1307.1L913.8,1309L915.3,1310.7L915.5,1313L917.2,1314.5L917.6,1317.5L919,1318.3L919.2,1321.9L919.5,1322.3L919.7,1324.2L919.9,1327L921.7,1329.9L921.9,1331L921.7,1332.4L922.1,1334.9L922,1337.5L921.8,1340.4L922.2,1342.7"/>
<path d="M985,1343L983.2,1341.6L982.9,1339.7L982,1338.3L979.7,1336.6L979.4,1334.9L977.4,1333.8L976.6,1331.4L975.2,1330.4L973.4,1328.6L971.8,1327.2L969.4,1325.4L968.1,1325.2L967.3,1322.6L966.6,1321.4L965,1319.4L962.8,1317.6L961.7,1316.5L960.7,1315.2L958.6,1313.6L957.1,1312.9L955,1312L954.8,1310.4L952.2,1309.8L950,1307.1L949.3,1306.8L946.8,1304.2L945.4,1303.3L943.9,1301.4L941.5,1300.6L940.5,1301L938,1299.4L936.7,1298.7L933.5,1296.7L932.9,1295.5L930.5,1295.8L928.8,1294L926.4,1291.5L925.7,1290.8L922.3,1289.3L922.2,1286.5L920.6,1284.5L917.9,1284.2L918.8,1281.2L918.8,1278.7L918.9,1276.9L919.8,1274.3L920.6,1272.3L919.9,1271.7L919.3,1268.3L918.3,1266.4L916.8,1265.9L915.8,1263.4L915.3,1260.4L915,1258.7L912.5,1256.3L912.4,1254.3L913.2,1252L914.6,1250.2L917.3,1249L914.5,1251L911.9,1252.7L910.3,1253.1L907.1,1254.5L903.7,1255.3L901.7,1254.5L900.6,1252.3L900.8,1250.9L899.7,1248.8L899.4,1246.6L900.2,1244.2L899.1,1241.9L899.3,1239.7L897.9,1238.3L899.5,1235.3L899.1,1234.3L899.8,1230.6L901.2,1228.7L900.8,1227.1L901.5,1224.5L901.7,1223L902.1,1221.8L902.9,1218.4L903.3,1216.6L905.4,1214.7L905.9,1213.1L905.5,1210.5L907.6,1207.5L908.4,1206.1L908.3,1205L908.3,1203L909,1200.4L909.3,1198.1L910.2,1196.5L912.1,1193.1L911,1191.6L913.2,1189.8L913.5,1187.1L913.4,1183.5L914.6,1182.2L914.2,1178.9L915.6,1178.3L918.9,1177.5L920.4,1175.8L922.7,1174.7L924.1,1174.5L926.1,1174.3L928.4,1173.5L931.8,1173.3L933.1,1174.4L934.9,1174.2L934.7,1177.4L934.2,1179.5L933.6,1181.3L934.5,1182.9L934.1,1185.1L933.6,1187.9L935.7,1187.9L937.1,1188L939.1,1188.8L941.7,1189L945.7,1190.1L947.4,1189.2L948.9,1192.3L951.7,1192.9L954.4,1194.2L956.4,1195.6L957.9,1196.8L960.6,1199.3L961.4,1199.6L964.1,1201.4L965.4,1203L966.9,1204.9L967.7,1206.2L969.9,1208.7L971.3,1210.8L972.4,1212.3L973.8,1215.5L974.4,1217L974.8,1218.4L976,1221.2L977.8,1221.4L980.4,1222.1L983.1,1222.7L984.2,1223L985.7,1225.2L986.8,1226.7L988.7,1229L989.8,1229.9L990.3,1232.3L990.7,1233.4L992.8,1235.2L993.7,1237.7L995.7,1236.6L996.2,1236.8L999.4,1236.7L1001,1236L1003.3,1236.3L1004.8,1237.5L1008.2,1238.6L1009.7,1239.3L1012.6,1241.7L1013.3,1241.5L1013.8,1243.6L1011.6,1246.2L1010.9,1247.2L1011.1,1251L1009.7,1252.9L1009.9,1255.1L1009,1256.7L1009,1259L1008.1,1261.3L1008.8,1264.3L1007.3,1267.4L1007.1,1268.2L1009.6,1268.3L1011.6,1267.3L1013.4,1266.6L1015.9,1264.4L1018.6,1263L1019.9,1262.9L1022.5,1261.1L1022.8,1260.4L1025.5,1258.5L1026.5,1257.9L1028.6,1256.5L1029.9,1254.7L1031.7,1252.1L1031.9,1249.8L1030.8,1247.2L1029.7,1244L1028.4,1242L1030.8,1242.9L1034.3,1244.8L1036.1,1241.3L1037.8,1239.7L1039.3,1238.3L1041.2,1237.4L1043.1,1236L1044.6,1234.6L1046.7,1233.2L1049,1231.7L1052.5,1231.6L1054.3,1230.1L1057.7,1230.5L1058.7,1229.4L1061.4,1227.7L1062.5,1227.8L1065.8,1226.2L1066.2,1225.5L1069.2,1224.9L1071,1223.9L1072.6,1221.6L1074.3,1222.1L1075.7,1219.6L1078.2,1219.1L1079.3,1216.5L1080.9,1215.8L1083.3,1215.5L1084.7,1213.4L1086.8,1212.3L1088.8,1210.4L1089.3,1209.4L1090.4,1206.6L1090.6,1204.1L1091.3,1203.3L1093.1,1200.9L1094.1,1198.6L1093.8,1196.2L1094.9,1193.4L1096.1,1192.9L1097.6,1189.4L1097,1187L1095.5,1184.9L1095.4,1182.4L1095,1180.2L1095.4,1179.3L1094.7,1175.5L1093.7,1173.2L1094.6,1171.5L1092.8,1169.5L1092.6,1167.5L1092.6,1165.4L1092.9,1163.1L1091.4,1160.9L1091.8,1158.4L1092.1,1157.2L1090.5,1155.3L1091.3,1152.9L1090.6,1150.7L1089,1147.6L1089.4,1146.1L1088.1,1144.3L1087.5,1142.4L1085.5,1140.2L1083.9,1139L1083.3,1135.9L1082.3,1136L1081.3,1133.8L1079.9,1132.5L1079.3,1129.4L1078.5,1128.6L1076.9,1125.7L1075.5,1123.9L1074.4,1122.6L1072.6,1121.5L1070.2,1121L1069.9,1118.7L1068.1,1117.1L1065.5,1116L1064.2,1114.7L1061.8,1113.8L1060.5,1112.6L1059.1,1110.4L1057.4,1109.6L1056.2,1107.1L1054.2,1105L1053.4,1105L1051.5,1103.3L1048.9,1100.7L1047.3,1098.7L1046.2,1098L1045.4,1097L1042.9,1095.5L1042.5,1093.5L1040.8,1092.6L1038.7,1089.5L1036.9,1088.8L1036.6,1086.8L1034.8,1085.8L1034.3,1084.4L1032.9,1082.4L1031.5,1080.3L1030.4,1078.8L1028.4,1076.5L1026.9,1075.2L1025.7,1073L1025.9,1071.8L1025.7,1069.5L1025.9,1067.6L1025.2,1064.9L1025.8,1062.3L1027.3,1061.1L1026.5,1058.7L1027.6,1056.7L1027.5,1053.8L1029.3,1053.1L1030,1050L1030.7,1049.2L1033.1,1047.6L1033.8,1045.2L1035.5,1043.8L1037.3,1041.6L1037.9,1040.9L1039.6,1038.1L1039.7,1036.8L1041,1034.9L1043,1033.3L1043.7,1031L1043.3,1028.5L1045.8,1027.7L1049,1027.4L1050.8,1026.6L1051.9,1026L1054.3,1026.8L1057.9,1025.7L1060,1025L1062.2,1024.7L1063.9,1024.5L1065.6,1024.7L1067,1023.2L1069.6,1022L1069.5,1018.8L1071.5,1018.7L1073.3,1017.2L1074.5,1014.9L1075.3,1014L1077.5,1012.7L1078.3,1012.6L1079.8,1013.2L1082.4,1015L1086,1015.9L1088.2,1016.4L1090.2,1016.8L1093.2,1016.8L1096.3,1017L1099.4,1017L1100.5,1018.6L1101.8,1021L1103.8,1022.3L1104.7,1025.1L1104.4,1025.9L1105.8,1028.1L1105.3,1030.5L1106.7,1033L1106.6,1034.2L1107.9,1036.6L1107.5,1039L1108.4,1040.2L1111.5,1042.8L1115.9,1040.2L1114.2,1038.2L1113.8,1037L1113.1,1033.2L1113.2,1031.1L1111.8,1029.8L1111.5,1026.9L1113.8,1026.5L1115.2,1026.2L1118.3,1024.9L1120.8,1025.1L1122.5,1024.4L1124.6,1023.1L1126.9,1021L1128.4,1020.2L1129.8,1019.9L1131.6,1019.9L1133.5,1017.8L1135.7,1016.7L1138.2,1017.1L1139.4,1015.9L1140.8,1014.3L1142.5,1014.2L1145.4,1013.1L1146.3,1014.5L1149,1014.9L1150.7,1014.7L1152.5,1016.8L1155.4,1016.3L1156.8,1016.3L1158.6,1018.3L1160.1,1015.9L1160.8,1014.5L1161.7,1011.7L1162.6,1009.5L1164,1008.7L1166.2,1006.2L1166.3,1004.4L1168.1,1004.1L1169.1,1000.7L1170.6,999.3L1170,997.4L1170.7,993.4L1173,992L1172.6,988.6L1174.4,988.3L1176.8,986.8L1178.6,988.7L1180.6,988.2L1180.1,991.3L1181,993L1179.3,994.5L1179.1,996.6L1178.7,998.8L1178.7,1000.5L1179.6,1003.2L1181.6,1004.2L1184.1,1005.6L1186.6,1006.5L1186.8,1007.4L1190.2,1009.4L1190.4,1007.5L1191.7,1006.3L1192.9,1004.4L1195.5,1002.1L1197.2,1000.5L1198.5,998.8L1198.9,997.9L1200.7,994.9L1202,995.4L1204.2,995.3L1205.8,995.6L1208,995L1210.9,994.2L1212.9,995.1L1214.1,994.6L1216.9,995.1L1219.4,993.8L1221.2,993.5L1222.5,992.8L1224.5,992.9L1227.1,991.8L1228.2,992L1231,991.7L1232.4,990.7L1233.7,988.8L1234.2,987.6L1235.1,983.8L1238.2,981.5L1239.6,980.6L1240.7,979.6L1243.1,978.1L1245.1,977.4L1247.9,976.7L1250.2,975.9L1251.5,972.4L1254,970.6L1255.8,970L1256.3,967.5L1258.9,965.8L1261.1,963.4L1262.5,962.5L1264.1,962.5L1266.6,960.3L1268.2,959.5L1270.3,959.2L1271,958.9L1273.5,958.5L1277.8,957.9L1279.6,956.1L1283.4,956.8L1285.2,955.5L1286.6,952.6L1288.6,953.1L1289.5,950.6"/>
<path d="M1081.1,1065.6L1081.7,1064.1L1083.2,1060.7L1084.1,1059.2L1085.8,1058.1L1086.4,1055.6L1087.2,1055L1090.2,1053.2L1092.6,1051.8L1094.6,1051L1096.4,1050.1L1097.4,1049.5L1100.7,1049.5L1102.7,1048.1L1105,1047L1105.9,1048.4L1108.5,1048L1110.7,1047L1112.1,1047.7L1114.5,1047.9L1117.4,1047.5L1119.4,1047.8L1121.8,1047.8L1124.1,1049.3L1126,1051.1L1128,1052.3L1128.4,1053.7L1128.8,1056.3L1127.7,1059.2L1125.9,1062.3L1124.8,1063L1124,1065.3L1122.3,1068.8L1120.6,1070.4L1118.4,1070.8L1118.3,1073.2L1116.1,1073.7L1113.8,1075.9L1112.5,1077L1111.3,1078.2L1109.3,1079.4L1108.7,1080.1L1106.4,1080.6L1105.3,1082.5L1101.1,1083.6L1099.7,1083.6L1097.4,1083.6L1094.8,1083.1L1091.2,1081.5L1090.1,1081.6L1086.9,1080.1L1084.9,1080L1084.2,1077.4L1083.7,1074.4L1083.4,1073.1L1081.6,1070L1081,1068.7L1080.5,1066.5"/>
<path d="M531.1,1244.4L533,1244.8L535.2,1245.2L538.2,1246.5L540,1246.3L541.7,1247.5L543,1249.2L544.9,1252.3L546,1253.5L546.1,1254.4L549,1256L549.2,1258L550.9,1260.9L551.3,1261.8L552.9,1264.6L554.3,1266.1L554.9,1269.2L557.6,1270.5L558.8,1272.4L558.8,1274.9L560.5,1276.3L561.2,1278.1L560.8,1279.6L561.7,1281.4L563.8,1283.6L564.7,1286.9L564.3,1288.8L565.6,1291.5L566,1292.8L566.2,1295.6L566.3,1298.7L564.9,1299.8L565,1303L563.8,1304.5L564,1305.9L561.5,1308.4L560.8,1310.1L558.5,1312.6L557,1313.7L555.8,1315.2L552.3,1317.1L551.8,1317.3L549.3,1317.8L547,1320.2L545.4,1319.8L542.3,1320L539.2,1320.2L538.1,1320.3L534.1,1318.3L533.9,1317.8L530.5,1316.5L530.7,1313.5L529.1,1311L528.8,1309.3L528.4,1308.1L527.8,1305.6L528.3,1304L528,1301.6L526.3,1300.4L525.7,1298.7L525.5,1296.2L525.5,1293.9L524.8,1291.6L524.4,1289.2L524.2,1285.9L525,1283.8L523,1283.1L524.2,1279.3L522.8,1277.8L522.9,1275.3L524.7,1273.6L524.3,1270.1L524.6,1269.3L525.8,1266.7L525.9,1264.6L525.3,1261.3L527,1260.1L527.7,1257.6L527.7,1255.9L528.5,1253.2L528.4,1252.6L528.3,1249.8L529.5,1248.1L530.8,1246.3L531.5,1244.4"/>
<path d="M515,1255L517.1,1256.9L519.9,1257L521.7,1258.7L524.8,1258.7"/>
<path d="M817,1343L817.3,1340.6L819.2,1338L818.8,1335.9L819.8,1333.4L821.3,1331.2L823.5,1329.4L825.7,1329.9L828.9,1330.3L831.4,1330.9L832.8,1332.5L835.9,1334.9L837.4,1335.2L839.9,1335.3L843.2,1336.4L844.5,1337.1L846.2,1336.4L849.8,1337.2L850.8,1336.3L852.8,1336.8L855.8,1336.5L857.8,1338.3L859.1,1339.1L862.6,1339.2L863.7,1339.9L866.1,1341.7L868,1343.6"/>
<path d="M1203,1338L1204.1,1337.5L1205.9,1334.4L1206.8,1333.9L1209.6,1332L1211.6,1330.6L1213.3,1329.4L1214.6,1329.1L1215.8,1327.2L1217.5,1326.6L1219.5,1324.8L1220.9,1323.8L1222.3,1321.4L1224,1320.3L1224.9,1317.6L1227.2,1316.1L1227.6,1315.7L1228.6,1313.3L1229.7,1311.3L1231.8,1309.9L1232,1309.4L1233.6,1307L1235.7,1305.3L1236.7,1303.2L1239,1301.1L1239.6,1298.6L1241.2,1297L1243.8,1295.3L1245.1,1293.5L1245.5,1296.7L1246.2,1298.3L1247.4,1299.9L1247.7,1302.2L1250.2,1304.6L1249.7,1306.8L1252,1308.8L1252,1310.6L1253.2,1312.2L1255.5,1314.9L1257.9,1317.1L1259.6,1317.7L1261.6,1319.7L1265.7,1321.5L1266.4,1322.9L1269.1,1324.3L1269.4,1323.9L1271.3,1326.3L1274.5,1326.6L1276,1327.5L1278.9,1328.8L1280.7,1328.8L1283.9,1329.3L1286.8,1330.4L1287.9,1332.6L1289,1336L1289,1336.5L1289.7,1338.5L1291.7,1340.5"/>
<path d="M1242.3,1282.4L1244,1281L1245,1279.1L1245.8,1276.2L1247.5,1274.3L1249.3,1272.9L1250.6,1271.3L1251.7,1269L1253.7,1266.6L1254.5,1266.2L1256.1,1263.1L1257.9,1262.6L1259.4,1260.5L1261,1259.1L1262.7,1256.9L1264,1254.5L1265.7,1253.2L1266.7,1250.8L1267.3,1250L1269.8,1248.9L1271.7,1246.8L1273.1,1244.4L1274.4,1243.7L1276.3,1242.1L1276.7,1240.9L1279.5,1239.2L1281.2,1237.8L1281.9,1235.7L1283.1,1234.4L1284.3,1232.7L1287.4,1231.3L1287.4,1228.3L1287.5,1225.9L1289.6,1223.9L1289,1221.8L1290.9,1219.3L1291.3,1216.4L1292.3,1215.2L1294.2,1212.9L1296.8,1210.6L1296.6,1209.2L1299.4,1207.5"/>
<path d="M1245.5,1284.5L1246.4,1282.8L1247.9,1281.4L1249.7,1279.2L1250.6,1278.5L1252,1276.5L1254.3,1273.5L1254.1,1271.8L1255.5,1271L1257.1,1268L1258.7,1267.5L1260.3,1265.3L1261.8,1264.5L1263.9,1261.5L1264.8,1259.6L1266.6,1259.2L1267.8,1257.6L1270.8,1254.8L1270.6,1253.2L1272.2,1252.3L1274.6,1250.2L1276.8,1249.8L1277.7,1247.8L1279.9,1246.1L1281,1244.6L1281.8,1243.6L1283.8,1240.5L1284.3,1239.3L1286,1237.7L1287.3,1237.4L1289.3,1235L1290.9,1232.1L1290.5,1231.4L1292,1228.4L1293.4,1226.7L1293.3,1223.9L1295,1221.7L1295.3,1220.2L1298.1,1217.4L1299.4,1215.7"/>
<path d="M1298,1112L1296.6,1113.4L1297,1115.6L1296.1,1118.5L1296.9,1119.2L1296.8,1122.8L1295.8,1123.3L1297.1,1126.3L1295.9,1128.7L1296.4,1130.5L1297.7,1131.2L1297.6,1134.5"/>
<path d="M1298.5,1196L1298.1,1198.7L1298,1201.5L1297.5,1203.8L1297.6,1206.4"/>
<path d="M393.3,1298L394.5,1300.1L395.2,1301.3L395.8,1303.3L396.5,1307.3L397,1308L395.8,1311.3L392.9,1312.4L393,1315.8L394.5,1316.9L394.7,1320L397,1320.8L398,1321.9L397.7,1325.9L396,1328.2L398.3,1330.1L399.5,1331.8L402.5,1332.3L404.6,1333.3L403.1,1335.4L403.6,1338L402.2,1340.8"/>
</g>
<path clip-path="url(#clipB)" fill="none" stroke="#808080" stroke-width="8" stroke-linejoin="round" stroke-linecap="round" d="M777,1171L776.2,1172.9L777.1,1175.8L777.7,1178.6L776.3,1180.6L776.2,1182.6L775.6,1184.2L776.9,1185.5L776.7,1188.9L775.4,1189.4L775.7,1192.1L774.2,1194.5L775.4,1196.2L774.3,1197.7L774.4,1200.8L773.5,1201.9L774.1,1204.9L772.7,1205.2L773.3,1208.3L772.4,1211L771.5,1213.7"/>
<path clip-path="url(#clipB)" fill="none" stroke="#808080" stroke-width="6.5" stroke-linejoin="round" stroke-linecap="round" d="M393.5,1298L394.5,1300.5L394.6,1302.1L395.3,1305.7L395.8,1307.7L395.5,1309L394.6,1311.8L394.6,1313.3L395,1316.6L396,1318.9L396.1,1320L397.9,1321.3L398.9,1324.2L398.8,1326.7L400.5,1329L400.8,1330.6L401.1,1333.7L402.7,1335.2L403,1338.3L404.2,1340.8"/>
<path clip-path="url(#clipB)" fill="none" stroke="#808080" stroke-width="9" stroke-linejoin="round" stroke-linecap="round" d="M684,1005L684.8,1006.9L687.4,1007.8L688.8,1008.7L689.1,1010L692,1010.5L694.3,1011.8L696.6,1011.6L699.9,1012.2L701.5,1013L702.7,1015L704.9,1014L707.6,1013.1L710.5,1011.3L711.6,1012.9L714.8,1012.3L716.6,1013.7L719.5,1011.4L721.4,1011.2L724,1009.3L726.2,1008.3L729.8,1007.9L731.5,1007.6L732.6,1006.9L735,1005.3"/>
<path clip-path="url(#clipB)" fill="none" stroke="#808080" stroke-width="7.5" stroke-linejoin="round" stroke-linecap="round" d="M731,1003L731.5,1001.4L731.1,998.5L730.9,996L731.2,994.6L730,991.1L731.1,990.4L730.7,988.4L732,986.4L731.5,984.3L731.7,980.8"/>
<path clip-path="url(#clipB)" fill="none" stroke="#808080" stroke-width="8" stroke-linejoin="round" stroke-linecap="round" d="M1031,1249L1032.2,1247.3L1034.3,1244.5L1035.5,1243.2L1037.8,1240.7L1040.6,1240.2L1041.9,1238.7"/>
<path clip-path="url(#clipB)" fill="none" stroke="#808080" stroke-width="8.5" stroke-linejoin="round" stroke-linecap="round" d="M879,1170L879.8,1171.2L880.6,1174.2L880.8,1176L881.2,1178.9L881,1179.1L882.3,1181.2L882.5,1183.6L882.4,1185.5L882.8,1188.2L883.5,1190L884.8,1191.8L885.6,1194.4L886,1196.2L885.3,1197.7L886.4,1200.4L886.6,1202.8L886.8,1204.6L887.4,1206.5L886,1208.9L887.1,1209.8L887.3,1212.1L887.2,1214.9L886.1,1215.7L887.1,1218.8L886.7,1219.5L886.2,1222.6L886.5,1223.8L885.9,1225.3L884.3,1228.4L884.2,1230.1L884.8,1231.5L884.5,1233.4L883.1,1236.7L882.5,1238.7L883.1,1240.5"/>
<g clip-path="url(#clipB)" fill="#808080"><circle cx="384" cy="1010" r="6.5"/><circle cx="395" cy="1015.5" r="3.2"/><circle cx="312" cy="974" r="2.8"/><circle cx="1177" cy="990" r="4.5"/><circle cx="1292.2" cy="979.3" r="4.2"/><circle cx="1244.7" cy="1294" r="5.2"/><circle cx="1243" cy="1281" r="4.3"/><circle cx="770.3" cy="1227.9" r="4"/><circle cx="794.1" cy="1147.5" r="1.8"/><circle cx="787.4" cy="1162.5" r="2"/><circle cx="805.6" cy="1176" r="1.8"/><circle cx="796.7" cy="1197.8" r="1.8"/><circle cx="765.1" cy="1211.3" r="1.8"/><circle cx="776" cy="1257.4" r="2.2"/><circle cx="783.8" cy="1273" r="2.3"/><circle cx="790" cy="1270.4" r="2"/><circle cx="785.8" cy="1278.2" r="2"/><circle cx="795.2" cy="1292" r="2.6"/><circle cx="795.6" cy="1300" r="2.8"/><circle cx="899.8" cy="1308.4" r="2.8"/><circle cx="1030" cy="1247" r="5"/><circle cx="387.9" cy="1209.2" r="1.6"/><circle cx="394.1" cy="1214.4" r="1.8"/><circle cx="381.1" cy="1224.7" r="1.6"/><circle cx="387.3" cy="1228.9" r="1.8"/><circle cx="733" cy="981" r="3.5"/><circle cx="684" cy="1004.5" r="4"/><circle cx="793" cy="1070" r="4.2"/><circle cx="727" cy="1001" r="3.5"/></g>
<g clip-path="url(#clipB)" fill="none" stroke="#808080" stroke-width="0.9"><circle cx="407.8" cy="1226" r="2.2"/><circle cx="406.7" cy="1240" r="2.2"/><circle cx="395.6" cy="1274.9" r="2.6"/><circle cx="1087.5" cy="1231.6" r="2.6"/><circle cx="1042.9" cy="1266.9" r="2.8"/><circle cx="964" cy="1209.9" r="2.4"/><circle cx="873.9" cy="1252.4" r="2.4"/><circle cx="908" cy="1249.3" r="2.2"/><circle cx="1271.9" cy="1299.6" r="3"/><circle cx="1190.7" cy="1221.8" r="2.6"/><circle cx="1205" cy="1220.2" r="2.6"/><circle cx="1220.6" cy="1226.8" r="3"/><circle cx="1193.3" cy="1235.8" r="2.8"/><circle cx="1211.2" cy="1237.3" r="2.2"/><circle cx="1185.6" cy="1241.2" r="2.6"/><circle cx="1192.6" cy="1248.2" r="2.6"/><circle cx="1138.4" cy="1116.4" r="2.2"/><circle cx="1153" cy="1109.6" r="2.2"/><circle cx="1160.7" cy="1112.2" r="2.2"/><circle cx="1142.6" cy="1125.2" r="2.2"/><circle cx="1131.2" cy="1129.3" r="2.2"/><circle cx="1090.7" cy="1029.3" r="2.2"/><circle cx="523.3" cy="1251.1" r="2.2"/><circle cx="870" cy="1190" r="2"/><circle cx="872" cy="1205" r="2"/><circle cx="871" cy="1222" r="2"/></g>
<g clip-path="url(#clipB)" fill="#000"><circle cx="435.1" cy="1070.4" r="3.0"/><circle cx="450.6" cy="1070.4" r="3.0"/><circle cx="466.2" cy="1070.4" r="3.0"/><circle cx="481.7" cy="1070.4" r="3.0"/><circle cx="443.1" cy="1086" r="3.0"/><circle cx="458.6" cy="1086" r="3.0"/><circle cx="474.2" cy="1086" r="3.0"/><circle cx="489.7" cy="1086" r="3.0"/><circle cx="435.1" cy="1101.5" r="3.0"/><circle cx="450.6" cy="1101.5" r="3.0"/><circle cx="536.3" cy="1117" r="3.0"/><circle cx="551.9" cy="1117" r="3.0"/><circle cx="528.3" cy="1132.6" r="3.0"/><circle cx="543.9" cy="1132.6" r="3.0"/><circle cx="520.8" cy="1148.2" r="3.0"/><circle cx="536.3" cy="1148.2" r="3.0"/><circle cx="528.3" cy="1163.7" r="3.0"/><circle cx="520.8" cy="1179.2" r="3.0"/><circle cx="512.8" cy="1194.8" r="3.0"/><circle cx="528.3" cy="1194.8" r="3.0"/><circle cx="520.8" cy="1210.3" r="3.0"/><circle cx="528.3" cy="1225.9" r="3.0"/><circle cx="816.1" cy="1086" r="3.0"/><circle cx="831.6" cy="1086" r="3.0"/><circle cx="847.1" cy="1086" r="3.0"/><circle cx="823.8" cy="1101.5" r="3.0"/><circle cx="839.4" cy="1101.5" r="3.0"/><circle cx="816.1" cy="1117" r="3.0"/><circle cx="831.6" cy="1117" r="3.0"/><circle cx="816.1" cy="961.5" r="3.0"/><circle cx="831.6" cy="961.5" r="3.0"/><circle cx="1056.9" cy="1163.7" r="3.0"/><circle cx="1049.2" cy="1179.2" r="3.0"/><circle cx="1064.7" cy="1179.2" r="3.0"/><circle cx="1056.9" cy="1194.8" r="3.0"/>
<clipPath id="pb1"><path d="M500,1080 L509,1080 L509,1092 L497,1092 Z"/></clipPath><g clip-path="url(#pb1)"><circle cx="505.3" cy="1086" r="3.0"/></g>
<clipPath id="pb2"><rect x="462" y="1097" width="9" height="3.2"/></clipPath><g clip-path="url(#pb2)"><circle cx="466.2" cy="1101.5" r="3.0"/></g>
<clipPath id="pb3"><path d="M528,1098 L532,1098 L532,1105 L526,1105 Z"/></clipPath><g clip-path="url(#pb3)"><circle cx="528.3" cy="1101.5" r="3.0"/></g>
<clipPath id="pb4"><path d="M521,1113 L524.5,1113 L524.5,1121 L520,1121 Z"/></clipPath><g clip-path="url(#pb4)"><circle cx="520.8" cy="1117" r="3.0"/></g>
<clipPath id="pb5"><path d="M556,1129 L560.5,1129 L560.5,1136 L556,1136 Z"/></clipPath><g clip-path="url(#pb5)"><circle cx="559.4" cy="1132.6" r="3.0"/></g>
<clipPath id="pb6"><path d="M513,1160 L516.5,1160 L516.5,1167 L513,1167 Z"/></clipPath><g clip-path="url(#pb6)"><circle cx="512.8" cy="1163.7" r="3.0"/></g>
<clipPath id="pb7"><path d="M820,1069 L827,1071.5 L827,1074 L820,1074 Z"/></clipPath><g clip-path="url(#pb7)"><circle cx="823.8" cy="1070.4" r="3.0"/></g>
<clipPath id="pb8"><path d="M1042,1191 L1045,1191 L1045,1199 L1042,1199 Z"/></clipPath><g clip-path="url(#pb8)"><circle cx="1041.4" cy="1194.8" r="3.0"/></g>
<clipPath id="pb9"><path d="M1070,1191 L1073,1191 L1075,1199 L1070,1199 Z"/></clipPath><g clip-path="url(#pb9)"><circle cx="1072.5" cy="1194.8" r="3.0"/></g>
<clipPath id="pb11"><path d="M1009,1224 L1012.5,1223 L1011,1229 L1008.5,1229 Z"/></clipPath><g clip-path="url(#pb11)"><circle cx="1010.3" cy="1225.9" r="3.0"/></g>
<clipPath id="pb10"><path d="M1061,1145 L1064,1145 L1065,1152 L1063,1152 Z"/></clipPath><g clip-path="url(#pb10)"><circle cx="1064.7" cy="1148.2" r="3.0"/></g>
</g>
<rect x="144.3" y="124.8" width="1156.7" height="502.2" fill="none" stroke="#000" stroke-width="5.1"/>
<rect x="144.4" y="953.0" width="1156.6" height="385.4000000000001" fill="none" stroke="#000" stroke-width="5.1"/>
<line x1="135" y1="153.7" x2="142.3" y2="153.7" stroke="#000" stroke-width="2.4"/>
<text x="124.5" y="168.6" font-size="44" text-anchor="end">100</text>
<line x1="135" y1="327.8" x2="142.3" y2="327.8" stroke="#000" stroke-width="2.4"/>
<text x="124.5" y="342.7" font-size="44" text-anchor="end">200</text>
<line x1="135" y1="378.9" x2="142.3" y2="378.9" stroke="#000" stroke-width="2.4"/>
<text x="124.5" y="393.79999999999995" font-size="44" text-anchor="end">250</text>
<line x1="135" y1="419.4" x2="142.3" y2="419.4" stroke="#000" stroke-width="2.4"/>
<text x="124.5" y="434.29999999999995" font-size="44" text-anchor="end">300</text>
<line x1="135" y1="452.1" x2="142.3" y2="452.1" stroke="#000" stroke-width="2.4"/>
<text x="124.5" y="467.0" font-size="44" text-anchor="end">350</text>
<line x1="135" y1="525.7" x2="142.3" y2="525.7" stroke="#000" stroke-width="2.4"/>
<text x="124.5" y="540.6" font-size="44" text-anchor="end">500</text>
<line x1="135" y1="591.1" x2="142.3" y2="591.1" stroke="#000" stroke-width="2.4"/>
<text x="124.5" y="606.0" font-size="44" text-anchor="end">700</text>
<line x1="135" y1="627.3" x2="142.3" y2="627.3" stroke="#000" stroke-width="2.4"/>
<text x="124.5" y="642.1999999999999" font-size="44" text-anchor="end">850</text>
<line x1="144.3" y1="629.0" x2="144.3" y2="637.2" stroke="#000" stroke-width="2.2"/>
<text x="144.3" y="677.8" font-size="44" text-anchor="middle">10°S</text>
<line x1="309.5" y1="629.0" x2="309.5" y2="637.2" stroke="#000" stroke-width="2.2"/>
<text x="309.5" y="677.8" font-size="44" text-anchor="middle">5°S</text>
<line x1="474.8" y1="629.0" x2="474.8" y2="637.2" stroke="#000" stroke-width="2.2"/>
<text x="474.8" y="677.8" font-size="44" text-anchor="middle">0°</text>
<line x1="640" y1="629.0" x2="640" y2="637.2" stroke="#000" stroke-width="2.2"/>
<text x="640" y="677.8" font-size="44" text-anchor="middle">5°N</text>
<line x1="805.3" y1="629.0" x2="805.3" y2="637.2" stroke="#000" stroke-width="2.2"/>
<text x="805.3" y="677.8" font-size="44" text-anchor="middle">10°N</text>
<line x1="970.5" y1="629.0" x2="970.5" y2="637.2" stroke="#000" stroke-width="2.2"/>
<text x="970.5" y="677.8" font-size="44" text-anchor="middle">15°N</text>
<line x1="1135.8" y1="629.0" x2="1135.8" y2="637.2" stroke="#000" stroke-width="2.2"/>
<text x="1135.8" y="677.8" font-size="44" text-anchor="middle">20°N</text>
<line x1="1301" y1="629.0" x2="1301" y2="637.2" stroke="#000" stroke-width="2.2"/>
<text x="1301" y="677.8" font-size="44" text-anchor="middle">25°N</text>
<text transform="translate(38.9,375.2) rotate(-90)" font-size="52" text-anchor="middle">Pressure (hPa)</text>
<text x="142.2" y="72.5" font-size="52.4">CAM5:</text>
<text x="318.4" y="72.5" font-size="51">vertical</text>
<text x="490.6" y="72.5" font-size="51">velocity</text>
<text x="667.8" y="72.5" font-size="51">(MAM)</text>
<text x="841.0" y="72.5" font-size="52">[60°-120°E]</text>
<path d="M52.6,49.1 L70,2.8 L84.4,2.8 L101.9,49.1 L89.9,49.1 L87,40.7 L67.8,40.7 L64.7,49.1 Z M77.4,13.7 L70.6,32.2 L83.9,32.2 Z" fill="#000" fill-rule="evenodd"/>
<path d="M354.90000000000003,717.8 L316.9,738.0999999999999 L354.90000000000003,758.4 Z" fill="#053061"/>
<path d="M1090.3,717.8 L1128.4,738.0999999999999 L1090.3,758.4 Z" fill="#67001f"/>
<rect x="354.4" y="717.8" width="37.3" height="40.60000000000002" fill="#0c3d73"/>
<rect x="391.2" y="717.8" width="37.3" height="40.60000000000002" fill="#1a5899"/>
<rect x="428" y="717.8" width="37.3" height="40.60000000000002" fill="#2a71b2"/>
<rect x="464.9" y="717.8" width="37.3" height="40.60000000000002" fill="#3a87bd"/>
<rect x="501.7" y="717.8" width="37.3" height="40.60000000000002" fill="#569fc9"/>
<rect x="538.5" y="717.8" width="37.3" height="40.60000000000002" fill="#7eb8d7"/>
<rect x="575.3" y="717.8" width="37.3" height="40.60000000000002" fill="#a2cde3"/>
<rect x="612.1" y="717.8" width="37.3" height="40.60000000000002" fill="#c2ddec"/>
<rect x="649" y="717.8" width="37.3" height="40.60000000000002" fill="#dae9f2"/>
<rect x="685.8" y="717.8" width="37.3" height="40.60000000000002" fill="#edf2f5"/>
<rect x="722.6" y="717.8" width="37.3" height="40.60000000000002" fill="#f9f0eb"/>
<rect x="759.4" y="717.8" width="37.3" height="40.60000000000002" fill="#fce2d2"/>
<rect x="796.2" y="717.8" width="37.3" height="40.60000000000002" fill="#fbccb4"/>
<rect x="833.1" y="717.8" width="37.3" height="40.60000000000002" fill="#f6b394"/>
<rect x="869.9" y="717.8" width="37.3" height="40.60000000000002" fill="#ec9374"/>
<rect x="906.7" y="717.8" width="37.3" height="40.60000000000002" fill="#dd7059"/>
<rect x="943.5" y="717.8" width="37.3" height="40.60000000000002" fill="#cc4c44"/>
<rect x="980.3" y="717.8" width="37.3" height="40.60000000000002" fill="#ba2832"/>
<rect x="1017.2" y="717.8" width="37.3" height="40.60000000000002" fill="#9f1228"/>
<rect x="1054" y="717.8" width="36.8" height="40.60000000000002" fill="#790622"/>
<path d="M354.40000000000003,717.8 L1090.8,717.8 L1128.4,738.0999999999999 L1090.8,758.4 L354.40000000000003,758.4 L316.9,738.0999999999999 Z" fill="none" stroke="#000" stroke-width="1.8" stroke-linejoin="miter"/>
<line x1="391.2" y1="758.4" x2="391.2" y2="767.9" stroke="#000" stroke-width="1.9"/>
<text x="391.2" y="812.6" font-size="52" text-anchor="middle">-9</text>
<line x1="501.7" y1="758.4" x2="501.7" y2="767.9" stroke="#000" stroke-width="1.9"/>
<text x="501.7" y="812.6" font-size="52" text-anchor="middle">-6</text>
<line x1="612.1" y1="758.4" x2="612.1" y2="767.9" stroke="#000" stroke-width="1.9"/>
<text x="612.1" y="812.6" font-size="52" text-anchor="middle">-3</text>
<line x1="722.6" y1="758.4" x2="722.6" y2="767.9" stroke="#000" stroke-width="1.9"/>
<text x="722.6" y="812.6" font-size="52" text-anchor="middle">0</text>
<line x1="833.1" y1="758.4" x2="833.1" y2="767.9" stroke="#000" stroke-width="1.9"/>
<text x="833.1" y="812.6" font-size="52" text-anchor="middle">3</text>
<line x1="943.5" y1="758.4" x2="943.5" y2="767.9" stroke="#000" stroke-width="1.9"/>
<text x="943.5" y="812.6" font-size="52" text-anchor="middle">6</text>
<line x1="1054" y1="758.4" x2="1054" y2="767.9" stroke="#000" stroke-width="1.9"/>
<text x="1054" y="812.6" font-size="52" text-anchor="middle">9</text>
<line x1="135" y1="953" x2="142.4" y2="953" stroke="#000" stroke-width="2.2"/>
<text x="125.3" y="967.4" font-size="40" text-anchor="end">25°N</text>
<line x1="135" y1="1145.7" x2="142.4" y2="1145.7" stroke="#000" stroke-width="2.2"/>
<text x="125.3" y="1160.1" font-size="40" text-anchor="end">15°N</text>
<line x1="135" y1="1338.4" x2="142.4" y2="1338.4" stroke="#000" stroke-width="2.2"/>
<text x="125.3" y="1352.8" font-size="40" text-anchor="end">5°N</text>
<line x1="337.2" y1="1340.4" x2="337.2" y2="1348" stroke="#000" stroke-width="2.2"/>
<text x="337.2" y="1384.8" font-size="40" text-anchor="middle">70°E</text>
<line x1="722.7" y1="1340.4" x2="722.7" y2="1348" stroke="#000" stroke-width="2.2"/>
<text x="722.7" y="1384.8" font-size="40" text-anchor="middle">90°E</text>
<line x1="1108.2" y1="1340.4" x2="1108.2" y2="1348" stroke="#000" stroke-width="2.2"/>
<text x="1108.2" y="1384.8" font-size="40" text-anchor="middle">110°E</text>
<text x="144.8" y="901.1" font-size="51.5">CAM5:</text>
<text x="310.5" y="901.1" font-size="51.5">T</text>
<text x="342.5" y="907.4" font-size="37" style="font-family:'Liberation Sans',sans-serif;font-style:italic">s</text>
<text x="377.2" y="901.1" font-size="51.5">(MAM)</text>
<path d="M57.8,848 L81.5,848 C91.6,848 95.4,854.8 95.4,860.7 C95.4,866.1 92.1,869 88.9,870.2 C93.3,872 97.2,876.1 97.2,881.5 C97.2,890.4 91.6,894.8 81.5,894.8 L57.8,894.8 Z M69.9,856 L77.9,856 C81.5,856 83,859 83,861.6 C83,864.9 81.5,866.7 77.9,866.7 L69.9,866.7 Z M69.9,874.4 L79.1,874.4 C83.3,874.4 85,877.3 85,880.9 C85,885 83.3,887.1 79.1,887.1 L69.9,887.1 Z" fill="#000" fill-rule="evenodd"/>
<path d="M354.95000000000005,1429.3 L317.3,1449.3 L354.95000000000005,1469.3 Z" fill="#3b4cc0"/>
<path d="M1090.45,1429.3 L1128.3,1449.3 L1090.45,1469.3 Z" fill="#b40426"/>
<rect x="354.5" y="1429.3" width="74.2" height="40.0" fill="#4961d2"/>
<rect x="428.1" y="1429.3" width="74.2" height="40.0" fill="#6a8bef"/>
<rect x="501.8" y="1429.3" width="74.2" height="40.0" fill="#8db0fe"/>
<rect x="575.4" y="1429.3" width="74.2" height="40.0" fill="#afcafc"/>
<rect x="649.1" y="1429.3" width="74.2" height="40.0" fill="#cfdaea"/>
<rect x="722.7" y="1429.3" width="74.2" height="40.0" fill="#e9d5cb"/>
<rect x="796.4" y="1429.3" width="74.2" height="40.0" fill="#f6bda2"/>
<rect x="870" y="1429.3" width="74.2" height="40.0" fill="#f49a7b"/>
<rect x="943.7" y="1429.3" width="74.2" height="40.0" fill="#e36c55"/>
<rect x="1017.3" y="1429.3" width="73.7" height="40.0" fill="#c53334"/>
<path d="M354.45000000000005,1429.3 L1090.95,1429.3 L1128.3,1449.3 L1090.95,1469.3 L354.45000000000005,1469.3 L317.3,1449.3 Z" fill="none" stroke="#000" stroke-width="1.8" stroke-linejoin="miter"/>
<line x1="428.1" y1="1469.3" x2="428.1" y2="1478.8" stroke="#000" stroke-width="1.9"/>
<text x="428.1" y="1523.8" font-size="52" text-anchor="middle">-0.4</text>
<line x1="575.4" y1="1469.3" x2="575.4" y2="1478.8" stroke="#000" stroke-width="1.9"/>
<text x="575.4" y="1523.8" font-size="52" text-anchor="middle">-0.2</text>
<line x1="722.7" y1="1469.3" x2="722.7" y2="1478.8" stroke="#000" stroke-width="1.9"/>
<text x="722.7" y="1523.8" font-size="52" text-anchor="middle">0.0</text>
<line x1="870" y1="1469.3" x2="870" y2="1478.8" stroke="#000" stroke-width="1.9"/>
<text x="870" y="1523.8" font-size="52" text-anchor="middle">0.2</text>
<line x1="1017.3" y1="1469.3" x2="1017.3" y2="1478.8" stroke="#000" stroke-width="1.9"/>
<text x="1017.3" y="1523.8" font-size="52" text-anchor="middle">0.4</text>
</svg>
</body></html>
